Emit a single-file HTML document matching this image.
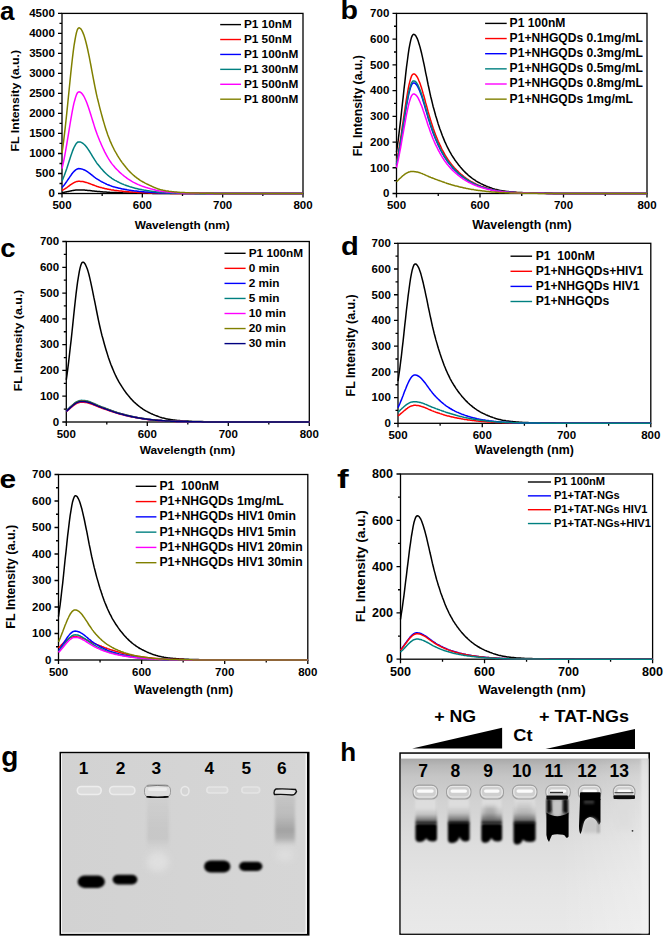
<!DOCTYPE html>
<html><head><meta charset="utf-8"><style>
html,body{margin:0;padding:0;background:#fff;}
svg{display:block;}
text{font-family:"Liberation Sans", sans-serif;font-weight:bold;fill:#000;}
</style></head><body>
<svg width="664" height="936" viewBox="0 0 664 936">
<rect width="664" height="936" fill="#fff"/>
<rect x="62" y="13.4" width="241" height="180.1" fill="none" stroke="#000" stroke-width="1.3"/>
<path d="M58 193.5H62M59.5 183.49H62M58 173.49H62M59.5 163.48H62M58 153.48H62M59.5 143.47H62M58 133.47H62M59.5 123.46H62M58 113.46H62M59.5 103.45H62M58 93.44H62M59.5 83.44H62M58 73.43H62M59.5 63.43H62M58 53.42H62M59.5 43.42H62M58 33.41H62M59.5 23.41H62M58 13.4H62M62 193.5V197.5M102.17 193.5V196M142.33 193.5V197.5M182.5 193.5V196M222.67 193.5V197.5M262.83 193.5V196M303 193.5V197.5" stroke="#000" stroke-width="1.3" fill="none"/>
<text x="54.8" y="197.3" text-anchor="end" font-size="11.5">0</text>
<text x="54.8" y="177.29" text-anchor="end" font-size="11.5">500</text>
<text x="54.8" y="157.28" text-anchor="end" font-size="11.5">1000</text>
<text x="54.8" y="137.27" text-anchor="end" font-size="11.5">1500</text>
<text x="54.8" y="117.26" text-anchor="end" font-size="11.5">2000</text>
<text x="54.8" y="97.24" text-anchor="end" font-size="11.5">2500</text>
<text x="54.8" y="77.23" text-anchor="end" font-size="11.5">3000</text>
<text x="54.8" y="57.22" text-anchor="end" font-size="11.5">3500</text>
<text x="54.8" y="37.21" text-anchor="end" font-size="11.5">4000</text>
<text x="54.8" y="17.2" text-anchor="end" font-size="11.5">4500</text>
<text x="62" y="209.3" text-anchor="middle" font-size="11.5">500</text>
<text x="142.33" y="209.3" text-anchor="middle" font-size="11.5">600</text>
<text x="222.67" y="209.3" text-anchor="middle" font-size="11.5">700</text>
<text x="303" y="209.3" text-anchor="middle" font-size="11.5">800</text>
<text x="182.2" y="228.5" text-anchor="middle" font-size="11.8" textLength="95" lengthAdjust="spacingAndGlyphs">Wavelength (nm)</text>
<text transform="translate(19.3,100.7) rotate(-90)" text-anchor="middle" font-size="11.8" textLength="101.5" lengthAdjust="spacingAndGlyphs">FL Intensity (a.u.)</text>
<text transform="translate(0,20.3) scale(1.0,1)" font-size="26">a</text>
<polyline points="62.0,192.6 62.8,192.5 63.6,192.4 64.4,192.2 65.2,192.1 66.0,191.9 66.8,191.7 67.6,191.6 68.4,191.4 69.2,191.2 70.0,191.1 70.8,190.9 71.6,190.7 72.4,190.6 73.2,190.4 74.0,190.3 74.9,190.2 75.7,190.1 76.5,190.0 77.3,189.9 78.1,189.9 78.9,189.9 79.7,189.9 80.5,189.9 81.3,189.9 82.1,190.0 82.9,190.0 83.7,190.0 84.5,190.1 85.3,190.2 86.1,190.2 86.9,190.3 87.7,190.4 88.5,190.5 89.3,190.5 90.1,190.6 90.9,190.7 91.7,190.8 92.5,190.9 93.3,191.0 94.1,191.1 94.9,191.2 95.7,191.3 96.5,191.3 97.3,191.4 98.2,191.5 99.0,191.6 99.8,191.6 100.6,191.7 101.4,191.8 102.2,191.8 103.0,191.9 103.8,192.0 104.6,192.0 105.4,192.1 106.2,192.1 107.0,192.2 107.8,192.2 108.6,192.3 109.4,192.3 110.2,192.4 111.0,192.4 111.8,192.4 112.6,192.5 113.4,192.5 114.2,192.5 115.0,192.6 115.8,192.6 116.6,192.6 117.4,192.7 118.2,192.7 119.0,192.7 119.8,192.8 120.6,192.8 121.4,192.8 122.2,192.8 123.1,192.9 123.9,192.9 124.7,192.9 125.5,192.9 126.3,192.9 127.1,193.0 127.9,193.0 128.7,193.0 129.5,193.0 130.3,193.0 131.1,193.1 131.9,193.1 132.7,193.1 133.5,193.1 134.3,193.1 135.1,193.1 135.9,193.1 136.7,193.2 137.5,193.2 138.3,193.2 139.1,193.2 139.9,193.2 140.7,193.2 141.5,193.2 142.3,193.2 143.1,193.3 143.9,193.3 144.7,193.3 145.5,193.3 146.3,193.3 147.2,193.3 148.0,193.3 148.8,193.3 149.6,193.3 150.4,193.3 151.2,193.3 152.0,193.3 152.8,193.4 153.6,193.4 154.4,193.4 155.2,193.4 156.0,193.4 156.8,193.4 157.6,193.4 158.4,193.4 159.2,193.4 160.0,193.4 160.8,193.4 161.6,193.4 162.4,193.4 163.2,193.4 164.0,193.4 164.8,193.4 165.6,193.4 166.4,193.4 167.2,193.4 168.0,193.4 168.8,193.5 169.6,193.5 170.4,193.5 171.3,193.5 172.1,193.5 172.9,193.5 173.7,193.5 174.5,193.5 175.3,193.5 176.1,193.5 176.9,193.5 177.7,193.5 178.5,193.5 179.3,193.5 180.1,193.5 180.9,193.5 181.7,193.5 182.5,193.5 184.1,193.5 185.7,193.5 187.3,193.5 188.9,193.5 190.5,193.5 192.1,193.5 193.7,193.5 195.4,193.5 197.0,193.5 198.6,193.5 200.2,193.5 201.8,193.5 203.4,193.5 205.0,193.5 206.6,193.5 208.2,193.5 209.8,193.5 211.4,193.5 213.0,193.5 214.6,193.5 216.2,193.5 217.8,193.5 219.5,193.5 221.1,193.5 222.7,193.5 224.3,193.5 225.9,193.5 227.5,193.5 229.1,193.5 230.7,193.5 232.3,193.5 233.9,193.5 235.5,193.5 237.1,193.5 238.7,193.5 240.3,193.5 241.9,193.5 243.6,193.5 245.2,193.5 246.8,193.5 248.4,193.5 250.0,193.5 251.6,193.5 253.2,193.5 254.8,193.5 256.4,193.5 258.0,193.5 259.6,193.5 261.2,193.5 262.8,193.5 264.4,193.5 266.0,193.5 267.7,193.5 269.3,193.5 270.9,193.5 272.5,193.5 274.1,193.5 275.7,193.5 277.3,193.5 278.9,193.5 280.5,193.5 282.1,193.5 283.7,193.5 285.3,193.5 286.9,193.5 288.5,193.5 290.1,193.5 291.8,193.5 293.4,193.5 295.0,193.5 296.6,193.5 298.2,193.5 299.8,193.5 301.4,193.5 303.0,193.5" fill="none" stroke="#000000" stroke-width="1.5" stroke-linejoin="round"/>
<polyline points="62.0,190.5 62.8,190.1 63.6,189.7 64.4,189.2 65.2,188.7 66.0,188.1 66.8,187.6 67.6,187.0 68.4,186.4 69.2,185.8 70.0,185.2 70.8,184.6 71.6,184.1 72.4,183.6 73.2,183.1 74.0,182.6 74.9,182.2 75.7,181.9 76.5,181.6 77.3,181.4 78.1,181.3 78.9,181.3 79.7,181.3 80.5,181.4 81.3,181.4 82.1,181.5 82.9,181.6 83.7,181.8 84.5,182.0 85.3,182.2 86.1,182.4 86.9,182.6 87.7,182.9 88.5,183.2 89.3,183.5 90.1,183.8 90.9,184.1 91.7,184.4 92.5,184.7 93.3,185.0 94.1,185.3 94.9,185.6 95.7,185.9 96.5,186.2 97.3,186.5 98.2,186.7 99.0,187.0 99.8,187.2 100.6,187.4 101.4,187.6 102.2,187.9 103.0,188.1 103.8,188.3 104.6,188.5 105.4,188.7 106.2,188.8 107.0,189.0 107.8,189.2 108.6,189.3 109.4,189.5 110.2,189.6 111.0,189.8 111.8,189.9 112.6,190.0 113.4,190.1 114.2,190.3 115.0,190.4 115.8,190.5 116.6,190.6 117.4,190.7 118.2,190.8 119.0,190.9 119.8,191.0 120.6,191.1 121.4,191.1 122.2,191.2 123.1,191.3 123.9,191.4 124.7,191.5 125.5,191.5 126.3,191.6 127.1,191.7 127.9,191.7 128.7,191.8 129.5,191.9 130.3,191.9 131.1,192.0 131.9,192.0 132.7,192.1 133.5,192.2 134.3,192.2 135.1,192.3 135.9,192.3 136.7,192.3 137.5,192.4 138.3,192.4 139.1,192.5 139.9,192.5 140.7,192.5 141.5,192.6 142.3,192.6 143.1,192.7 143.9,192.7 144.7,192.7 145.5,192.7 146.3,192.8 147.2,192.8 148.0,192.8 148.8,192.9 149.6,192.9 150.4,192.9 151.2,192.9 152.0,193.0 152.8,193.0 153.6,193.0 154.4,193.1 155.2,193.1 156.0,193.1 156.8,193.1 157.6,193.1 158.4,193.2 159.2,193.2 160.0,193.2 160.8,193.2 161.6,193.2 162.4,193.2 163.2,193.3 164.0,193.3 164.8,193.3 165.6,193.3 166.4,193.3 167.2,193.3 168.0,193.3 168.8,193.3 169.6,193.3 170.4,193.4 171.3,193.4 172.1,193.4 172.9,193.4 173.7,193.4 174.5,193.4 175.3,193.4 176.1,193.4 176.9,193.4 177.7,193.4 178.5,193.4 179.3,193.4 180.1,193.4 180.9,193.4 181.7,193.4 182.5,193.4 184.1,193.4 185.7,193.4 187.3,193.4 188.9,193.5 190.5,193.5 192.1,193.5 193.7,193.5 195.4,193.5 197.0,193.5 198.6,193.5 200.2,193.5 201.8,193.5 203.4,193.5 205.0,193.5 206.6,193.5 208.2,193.5 209.8,193.5 211.4,193.5 213.0,193.5 214.6,193.5 216.2,193.5 217.8,193.5 219.5,193.5 221.1,193.5 222.7,193.5 224.3,193.5 225.9,193.5 227.5,193.5 229.1,193.5 230.7,193.5 232.3,193.5 233.9,193.5 235.5,193.5 237.1,193.5 238.7,193.5 240.3,193.5 241.9,193.5 243.6,193.5 245.2,193.5 246.8,193.5 248.4,193.5 250.0,193.5 251.6,193.5 253.2,193.5 254.8,193.5 256.4,193.5 258.0,193.5 259.6,193.5 261.2,193.5 262.8,193.5 264.4,193.5 266.0,193.5 267.7,193.5 269.3,193.5 270.9,193.5 272.5,193.5 274.1,193.5 275.7,193.5 277.3,193.5 278.9,193.5 280.5,193.5 282.1,193.5 283.7,193.5 285.3,193.5 286.9,193.5 288.5,193.5 290.1,193.5 291.8,193.5 293.4,193.5 295.0,193.5 296.6,193.5 298.2,193.5 299.8,193.5 301.4,193.5 303.0,193.5" fill="none" stroke="#ff0000" stroke-width="1.5" stroke-linejoin="round"/>
<polyline points="62.0,187.4 62.8,186.6 63.6,185.7 64.4,184.7 65.2,183.6 66.0,182.5 66.8,181.4 67.6,180.2 68.4,179.0 69.2,177.8 70.0,176.6 70.8,175.5 71.6,174.3 72.4,173.2 73.2,172.3 74.0,171.4 74.9,170.6 75.7,169.9 76.5,169.4 77.3,169.0 78.1,168.7 78.9,168.6 79.7,168.7 80.5,168.8 81.3,168.9 82.1,169.1 82.9,169.4 83.7,169.7 84.5,170.0 85.3,170.4 86.1,170.9 86.9,171.4 87.7,171.9 88.5,172.5 89.3,173.1 90.1,173.7 90.9,174.3 91.7,174.9 92.5,175.6 93.3,176.2 94.1,176.9 94.9,177.5 95.7,178.1 96.5,178.6 97.3,179.2 98.2,179.7 99.0,180.2 99.8,180.7 100.6,181.1 101.4,181.6 102.2,182.0 103.0,182.4 103.8,182.8 104.6,183.2 105.4,183.6 106.2,184.0 107.0,184.4 107.8,184.7 108.6,185.0 109.4,185.3 110.2,185.6 111.0,185.9 111.8,186.2 112.6,186.4 113.4,186.7 114.2,186.9 115.0,187.1 115.8,187.4 116.6,187.6 117.4,187.8 118.2,188.0 119.0,188.2 119.8,188.3 120.6,188.5 121.4,188.7 122.2,188.9 123.1,189.0 123.9,189.2 124.7,189.3 125.5,189.5 126.3,189.6 127.1,189.8 127.9,189.9 128.7,190.1 129.5,190.2 130.3,190.3 131.1,190.4 131.9,190.5 132.7,190.7 133.5,190.8 134.3,190.9 135.1,191.0 135.9,191.1 136.7,191.1 137.5,191.2 138.3,191.3 139.1,191.4 139.9,191.5 140.7,191.6 141.5,191.6 142.3,191.7 143.1,191.8 143.9,191.8 144.7,191.9 145.5,192.0 146.3,192.0 147.2,192.1 148.0,192.1 148.8,192.2 149.6,192.3 150.4,192.3 151.2,192.4 152.0,192.4 152.8,192.5 153.6,192.5 154.4,192.6 155.2,192.6 156.0,192.7 156.8,192.7 157.6,192.8 158.4,192.8 159.2,192.9 160.0,192.9 160.8,192.9 161.6,193.0 162.4,193.0 163.2,193.0 164.0,193.0 164.8,193.1 165.6,193.1 166.4,193.1 167.2,193.1 168.0,193.1 168.8,193.2 169.6,193.2 170.4,193.2 171.3,193.2 172.1,193.2 172.9,193.2 173.7,193.3 174.5,193.3 175.3,193.3 176.1,193.3 176.9,193.3 177.7,193.3 178.5,193.3 179.3,193.3 180.1,193.3 180.9,193.3 181.7,193.3 182.5,193.4 184.1,193.4 185.7,193.4 187.3,193.4 188.9,193.4 190.5,193.4 192.1,193.4 193.7,193.4 195.4,193.4 197.0,193.4 198.6,193.4 200.2,193.4 201.8,193.5 203.4,193.5 205.0,193.5 206.6,193.5 208.2,193.5 209.8,193.5 211.4,193.5 213.0,193.5 214.6,193.5 216.2,193.5 217.8,193.5 219.5,193.5 221.1,193.5 222.7,193.5 224.3,193.5 225.9,193.5 227.5,193.5 229.1,193.5 230.7,193.5 232.3,193.5 233.9,193.5 235.5,193.5 237.1,193.5 238.7,193.5 240.3,193.5 241.9,193.5 243.6,193.5 245.2,193.5 246.8,193.5 248.4,193.5 250.0,193.5 251.6,193.5 253.2,193.5 254.8,193.5 256.4,193.5 258.0,193.5 259.6,193.5 261.2,193.5 262.8,193.5 264.4,193.5 266.0,193.5 267.7,193.5 269.3,193.5 270.9,193.5 272.5,193.5 274.1,193.5 275.7,193.5 277.3,193.5 278.9,193.5 280.5,193.5 282.1,193.5 283.7,193.5 285.3,193.5 286.9,193.5 288.5,193.5 290.1,193.5 291.8,193.5 293.4,193.5 295.0,193.5 296.6,193.5 298.2,193.5 299.8,193.5 301.4,193.5 303.0,193.5" fill="none" stroke="#0000ff" stroke-width="1.5" stroke-linejoin="round"/>
<polyline points="62.0,180.9 62.8,179.1 63.6,177.2 64.4,175.2 65.2,173.0 66.0,170.7 66.8,168.4 67.6,165.9 68.4,163.4 69.2,160.9 70.0,158.4 70.8,156.0 71.6,153.7 72.4,151.4 73.2,149.4 74.0,147.5 74.9,145.8 75.7,144.4 76.5,143.3 77.3,142.5 78.1,142.0 78.9,141.9 79.7,141.9 80.5,142.1 81.3,142.4 82.1,142.8 82.9,143.4 83.7,144.0 84.5,144.7 85.3,145.6 86.1,146.5 86.9,147.5 87.7,148.6 88.5,149.8 89.3,151.0 90.1,152.3 90.9,153.6 91.7,155.0 92.5,156.3 93.3,157.6 94.1,158.9 94.9,160.2 95.7,161.4 96.5,162.6 97.3,163.7 98.2,164.8 99.0,165.8 99.8,166.8 100.6,167.8 101.4,168.7 102.2,169.6 103.0,170.5 103.8,171.4 104.6,172.2 105.4,173.0 106.2,173.8 107.0,174.5 107.8,175.2 108.6,175.9 109.4,176.5 110.2,177.2 111.0,177.7 111.8,178.3 112.6,178.8 113.4,179.3 114.2,179.8 115.0,180.3 115.8,180.7 116.6,181.2 117.4,181.6 118.2,182.0 119.0,182.4 119.8,182.8 120.6,183.2 121.4,183.5 122.2,183.9 123.1,184.2 123.9,184.6 124.7,184.9 125.5,185.2 126.3,185.5 127.1,185.8 127.9,186.1 128.7,186.3 129.5,186.6 130.3,186.9 131.1,187.1 131.9,187.3 132.7,187.6 133.5,187.8 134.3,188.0 135.1,188.2 135.9,188.4 136.7,188.6 137.5,188.8 138.3,189.0 139.1,189.2 139.9,189.3 140.7,189.5 141.5,189.6 142.3,189.8 143.1,189.9 143.9,190.1 144.7,190.2 145.5,190.3 146.3,190.4 147.2,190.6 148.0,190.7 148.8,190.8 149.6,190.9 150.4,191.1 151.2,191.2 152.0,191.3 152.8,191.4 153.6,191.5 154.4,191.6 155.2,191.7 156.0,191.8 156.8,191.9 157.6,192.0 158.4,192.1 159.2,192.2 160.0,192.2 160.8,192.3 161.6,192.4 162.4,192.4 163.2,192.5 164.0,192.5 164.8,192.6 165.6,192.6 166.4,192.7 167.2,192.7 168.0,192.8 168.8,192.8 169.6,192.8 170.4,192.9 171.3,192.9 172.1,192.9 172.9,193.0 173.7,193.0 174.5,193.0 175.3,193.0 176.1,193.1 176.9,193.1 177.7,193.1 178.5,193.1 179.3,193.1 180.1,193.1 180.9,193.2 181.7,193.2 182.5,193.2 184.1,193.2 185.7,193.2 187.3,193.3 188.9,193.3 190.5,193.3 192.1,193.3 193.7,193.3 195.4,193.4 197.0,193.4 198.6,193.4 200.2,193.4 201.8,193.4 203.4,193.4 205.0,193.4 206.6,193.4 208.2,193.4 209.8,193.4 211.4,193.4 213.0,193.5 214.6,193.5 216.2,193.5 217.8,193.5 219.5,193.5 221.1,193.5 222.7,193.5 224.3,193.5 225.9,193.5 227.5,193.5 229.1,193.5 230.7,193.5 232.3,193.5 233.9,193.5 235.5,193.5 237.1,193.5 238.7,193.5 240.3,193.5 241.9,193.5 243.6,193.5 245.2,193.5 246.8,193.5 248.4,193.5 250.0,193.5 251.6,193.5 253.2,193.5 254.8,193.5 256.4,193.5 258.0,193.5 259.6,193.5 261.2,193.5 262.8,193.5 264.4,193.5 266.0,193.5 267.7,193.5 269.3,193.5 270.9,193.5 272.5,193.5 274.1,193.5 275.7,193.5 277.3,193.5 278.9,193.5 280.5,193.5 282.1,193.5 283.7,193.5 285.3,193.5 286.9,193.5 288.5,193.5 290.1,193.5 291.8,193.5 293.4,193.5 295.0,193.5 296.6,193.5 298.2,193.5 299.8,193.5 301.4,193.5 303.0,193.5" fill="none" stroke="#008080" stroke-width="1.5" stroke-linejoin="round"/>
<polyline points="62.0,168.7 62.8,165.2 63.6,161.5 64.4,157.5 65.2,153.2 66.0,148.7 66.8,144.0 67.6,139.2 68.4,134.3 69.2,129.4 70.0,124.5 70.8,119.7 71.6,115.1 72.4,110.7 73.2,106.6 74.0,102.9 74.9,99.7 75.7,96.9 76.5,94.7 77.3,93.1 78.1,92.2 78.9,91.8 79.7,92.0 80.5,92.3 81.3,92.9 82.1,93.7 82.9,94.8 83.7,96.0 84.5,97.5 85.3,99.2 86.1,101.0 86.9,103.0 87.7,105.2 88.5,107.5 89.3,109.9 90.1,112.4 90.9,115.0 91.7,117.6 92.5,120.2 93.3,122.8 94.1,125.4 94.9,127.9 95.7,130.3 96.5,132.6 97.3,134.8 98.2,137.0 99.0,139.0 99.8,141.0 100.6,142.8 101.4,144.7 102.2,146.5 103.0,148.2 103.8,149.9 104.6,151.6 105.4,153.1 106.2,154.7 107.0,156.1 107.8,157.5 108.6,158.9 109.4,160.1 110.2,161.3 111.0,162.5 111.8,163.6 112.6,164.6 113.4,165.6 114.2,166.5 115.0,167.5 115.8,168.4 116.6,169.2 117.4,170.0 118.2,170.8 119.0,171.6 119.8,172.4 120.6,173.1 121.4,173.8 122.2,174.5 123.1,175.2 123.9,175.9 124.7,176.5 125.5,177.1 126.3,177.7 127.1,178.3 127.9,178.9 128.7,179.4 129.5,179.9 130.3,180.4 131.1,180.9 131.9,181.4 132.7,181.8 133.5,182.3 134.3,182.7 135.1,183.1 135.9,183.5 136.7,183.9 137.5,184.2 138.3,184.6 139.1,184.9 139.9,185.3 140.7,185.6 141.5,185.9 142.3,186.2 143.1,186.4 143.9,186.7 144.7,187.0 145.5,187.2 146.3,187.5 147.2,187.7 148.0,188.0 148.8,188.2 149.6,188.4 150.4,188.7 151.2,188.9 152.0,189.1 152.8,189.4 153.6,189.6 154.4,189.8 155.2,190.0 156.0,190.2 156.8,190.4 157.6,190.6 158.4,190.7 159.2,190.9 160.0,191.0 160.8,191.2 161.6,191.3 162.4,191.4 163.2,191.5 164.0,191.6 164.8,191.7 165.6,191.8 166.4,191.9 167.2,192.0 168.0,192.1 168.8,192.1 169.6,192.2 170.4,192.3 171.3,192.3 172.1,192.4 172.9,192.4 173.7,192.5 174.5,192.5 175.3,192.6 176.1,192.6 176.9,192.7 177.7,192.7 178.5,192.7 179.3,192.8 180.1,192.8 180.9,192.8 181.7,192.9 182.5,192.9 184.1,193.0 185.7,193.0 187.3,193.1 188.9,193.1 190.5,193.1 192.1,193.2 193.7,193.2 195.4,193.2 197.0,193.2 198.6,193.3 200.2,193.3 201.8,193.3 203.4,193.3 205.0,193.3 206.6,193.4 208.2,193.4 209.8,193.4 211.4,193.4 213.0,193.4 214.6,193.4 216.2,193.4 217.8,193.4 219.5,193.4 221.1,193.4 222.7,193.4 224.3,193.4 225.9,193.5 227.5,193.5 229.1,193.5 230.7,193.5 232.3,193.5 233.9,193.5 235.5,193.5 237.1,193.5 238.7,193.5 240.3,193.5 241.9,193.5 243.6,193.5 245.2,193.5 246.8,193.5 248.4,193.5 250.0,193.5 251.6,193.5 253.2,193.5 254.8,193.5 256.4,193.5 258.0,193.5 259.6,193.5 261.2,193.5 262.8,193.5 264.4,193.5 266.0,193.5 267.7,193.5 269.3,193.5 270.9,193.5 272.5,193.5 274.1,193.5 275.7,193.5 277.3,193.5 278.9,193.5 280.5,193.5 282.1,193.5 283.7,193.5 285.3,193.5 286.9,193.5 288.5,193.5 290.1,193.5 291.8,193.5 293.4,193.5 295.0,193.5 296.6,193.5 298.2,193.5 299.8,193.5 301.4,193.5 303.0,193.5" fill="none" stroke="#ff00ff" stroke-width="1.5" stroke-linejoin="round"/>
<polyline points="62.0,153.1 62.8,147.4 63.6,141.3 64.4,134.7 65.2,127.8 66.0,120.5 66.8,112.8 67.6,105.0 68.4,97.0 69.2,89.0 70.0,81.0 70.8,73.2 71.6,65.6 72.4,58.5 73.2,51.9 74.0,45.8 74.9,40.5 75.7,36.1 76.5,32.5 77.3,29.9 78.1,28.3 78.9,27.8 79.7,28.0 80.5,28.6 81.3,29.5 82.1,30.9 82.9,32.6 83.7,34.6 84.5,37.0 85.3,39.7 86.1,42.7 86.9,46.0 87.7,49.5 88.5,53.3 89.3,57.2 90.1,61.3 90.9,65.5 91.7,69.8 92.5,74.1 93.3,78.3 94.1,82.5 94.9,86.6 95.7,90.5 96.5,94.3 97.3,97.9 98.2,101.3 99.0,104.7 99.8,107.9 100.6,110.9 101.4,113.9 102.2,116.8 103.0,119.7 103.8,122.4 104.6,125.1 105.4,127.7 106.2,130.2 107.0,132.6 107.8,134.9 108.6,137.0 109.4,139.1 110.2,141.1 111.0,142.9 111.8,144.7 112.6,146.4 113.4,148.0 114.2,149.6 115.0,151.1 115.8,152.5 116.6,153.9 117.4,155.3 118.2,156.6 119.0,157.9 119.8,159.1 120.6,160.3 121.4,161.5 122.2,162.6 123.1,163.7 123.9,164.8 124.7,165.8 125.5,166.8 126.3,167.8 127.1,168.7 127.9,169.7 128.7,170.5 129.5,171.4 130.3,172.2 131.1,173.0 131.9,173.8 132.7,174.5 133.5,175.2 134.3,175.9 135.1,176.6 135.9,177.2 136.7,177.8 137.5,178.4 138.3,179.0 139.1,179.5 139.9,180.1 140.7,180.6 141.5,181.1 142.3,181.5 143.1,182.0 143.9,182.4 144.7,182.9 145.5,183.3 146.3,183.7 147.2,184.1 148.0,184.5 148.8,184.9 149.6,185.3 150.4,185.6 151.2,186.0 152.0,186.4 152.8,186.8 153.6,187.1 154.4,187.5 155.2,187.8 156.0,188.1 156.8,188.4 157.6,188.7 158.4,189.0 159.2,189.2 160.0,189.5 160.8,189.7 161.6,189.9 162.4,190.1 163.2,190.3 164.0,190.4 164.8,190.6 165.6,190.8 166.4,190.9 167.2,191.0 168.0,191.1 168.8,191.3 169.6,191.4 170.4,191.5 171.3,191.6 172.1,191.7 172.9,191.8 173.7,191.8 174.5,191.9 175.3,192.0 176.1,192.1 176.9,192.1 177.7,192.2 178.5,192.3 179.3,192.3 180.1,192.4 180.9,192.4 181.7,192.5 182.5,192.5 184.1,192.6 185.7,192.7 187.3,192.8 188.9,192.8 190.5,192.9 192.1,193.0 193.7,193.0 195.4,193.0 197.0,193.1 198.6,193.1 200.2,193.2 201.8,193.2 203.4,193.2 205.0,193.2 206.6,193.3 208.2,193.3 209.8,193.3 211.4,193.3 213.0,193.3 214.6,193.4 216.2,193.4 217.8,193.4 219.5,193.4 221.1,193.4 222.7,193.4 224.3,193.4 225.9,193.4 227.5,193.4 229.1,193.4 230.7,193.4 232.3,193.4 233.9,193.5 235.5,193.5 237.1,193.5 238.7,193.5 240.3,193.5 241.9,193.5 243.6,193.5 245.2,193.5 246.8,193.5 248.4,193.5 250.0,193.5 251.6,193.5 253.2,193.5 254.8,193.5 256.4,193.5 258.0,193.5 259.6,193.5 261.2,193.5 262.8,193.5 264.4,193.5 266.0,193.5 267.7,193.5 269.3,193.5 270.9,193.5 272.5,193.5 274.1,193.5 275.7,193.5 277.3,193.5 278.9,193.5 280.5,193.5 282.1,193.5 283.7,193.5 285.3,193.5 286.9,193.5 288.5,193.5 290.1,193.5 291.8,193.5 293.4,193.5 295.0,193.5 296.6,193.5 298.2,193.5 299.8,193.5 301.4,193.5 303.0,193.5" fill="none" stroke="#808000" stroke-width="1.5" stroke-linejoin="round"/>
<path d="M220.2 24.6H241" stroke="#000000" stroke-width="1.4"/>
<text x="243.9" y="28" font-size="11.8" xml:space="preserve">P1 10nM</text>
<path d="M220.2 39.52H241" stroke="#ff0000" stroke-width="1.4"/>
<text x="243.9" y="42.92" font-size="11.8" xml:space="preserve">P1 50nM</text>
<path d="M220.2 54.44H241" stroke="#0000ff" stroke-width="1.4"/>
<text x="243.9" y="57.84" font-size="11.8" xml:space="preserve">P1 100nM</text>
<path d="M220.2 69.36H241" stroke="#008080" stroke-width="1.4"/>
<text x="243.9" y="72.76" font-size="11.8" xml:space="preserve">P1 300nM</text>
<path d="M220.2 84.28H241" stroke="#ff00ff" stroke-width="1.4"/>
<text x="243.9" y="87.68" font-size="11.8" xml:space="preserve">P1 500nM</text>
<path d="M220.2 99.2H241" stroke="#808000" stroke-width="1.4"/>
<text x="243.9" y="102.6" font-size="11.8" xml:space="preserve">P1 800nM</text>
<rect x="396.5" y="13.4" width="250.5" height="180.1" fill="none" stroke="#000" stroke-width="1.3"/>
<path d="M392.5 193.5H396.5M394 180.64H396.5M392.5 167.77H396.5M394 154.91H396.5M392.5 142.04H396.5M394 129.18H396.5M392.5 116.31H396.5M394 103.45H396.5M392.5 90.59H396.5M394 77.72H396.5M392.5 64.86H396.5M394 51.99H396.5M392.5 39.13H396.5M394 26.26H396.5M392.5 13.4H396.5M396.5 193.5V197.5M438.25 193.5V196M480 193.5V197.5M521.75 193.5V196M563.5 193.5V197.5M605.25 193.5V196M647 193.5V197.5" stroke="#000" stroke-width="1.3" fill="none"/>
<text x="389.3" y="197.3" text-anchor="end" font-size="11.5">0</text>
<text x="389.3" y="171.57" text-anchor="end" font-size="11.5">100</text>
<text x="389.3" y="145.84" text-anchor="end" font-size="11.5">200</text>
<text x="389.3" y="120.11" text-anchor="end" font-size="11.5">300</text>
<text x="389.3" y="94.39" text-anchor="end" font-size="11.5">400</text>
<text x="389.3" y="68.66" text-anchor="end" font-size="11.5">500</text>
<text x="389.3" y="42.93" text-anchor="end" font-size="11.5">600</text>
<text x="389.3" y="17.2" text-anchor="end" font-size="11.5">700</text>
<text x="396.5" y="209.3" text-anchor="middle" font-size="11.5">500</text>
<text x="480" y="209.3" text-anchor="middle" font-size="11.5">600</text>
<text x="563.5" y="209.3" text-anchor="middle" font-size="11.5">700</text>
<text x="647" y="209.3" text-anchor="middle" font-size="11.5">800</text>
<text x="521.9" y="228.5" text-anchor="middle" font-size="12.2" textLength="99.5" lengthAdjust="spacingAndGlyphs">Wavelength (nm)</text>
<text transform="translate(361.5,105.7) rotate(-90)" text-anchor="middle" font-size="12.2" textLength="101" lengthAdjust="spacingAndGlyphs">FL Intensity (a.u.)</text>
<text transform="translate(340.5,19) scale(1.1,1)" font-size="26">b</text>
<polyline points="396.5,152.0 397.3,146.3 398.2,140.2 399.0,133.7 399.8,126.9 400.7,119.7 401.5,112.2 402.3,104.6 403.2,96.9 404.0,89.2 404.9,81.6 405.7,74.2 406.5,67.1 407.4,60.5 408.2,54.4 409.0,48.9 409.9,44.2 410.7,40.4 411.5,37.4 412.4,35.4 413.2,34.4 414.0,34.3 414.9,34.8 415.7,35.7 416.5,37.1 417.4,38.9 418.2,41.1 419.0,43.7 419.9,46.6 420.7,49.8 421.6,53.3 422.4,56.9 423.2,60.7 424.1,64.7 424.9,68.7 425.7,72.8 426.6,76.9 427.4,81.0 428.2,85.0 429.1,89.0 429.9,92.8 430.7,96.5 431.6,100.0 432.4,103.4 433.2,106.7 434.1,109.8 434.9,112.8 435.7,115.7 436.6,118.5 437.4,121.2 438.2,123.9 439.1,126.4 439.9,128.9 440.8,131.2 441.6,133.5 442.4,135.8 443.3,137.9 444.1,139.9 444.9,141.9 445.8,143.7 446.6,145.5 447.4,147.2 448.3,148.8 449.1,150.4 449.9,151.9 450.8,153.4 451.6,154.8 452.4,156.1 453.3,157.5 454.1,158.7 454.9,160.0 455.8,161.1 456.6,162.3 457.5,163.4 458.3,164.5 459.1,165.6 460.0,166.6 460.8,167.6 461.6,168.5 462.5,169.5 463.3,170.4 464.1,171.2 465.0,172.1 465.8,172.9 466.6,173.7 467.5,174.4 468.3,175.2 469.1,175.9 470.0,176.6 470.8,177.2 471.6,177.9 472.5,178.5 473.3,179.1 474.2,179.7 475.0,180.2 475.8,180.8 476.7,181.3 477.5,181.8 478.3,182.3 479.2,182.7 480.0,183.2 480.8,183.6 481.7,184.0 482.5,184.4 483.3,184.8 484.2,185.2 485.0,185.5 485.8,185.9 486.7,186.2 487.5,186.6 488.4,186.9 489.2,187.2 490.0,187.5 490.9,187.8 491.7,188.1 492.5,188.4 493.4,188.7 494.2,188.9 495.0,189.2 495.9,189.4 496.7,189.6 497.5,189.8 498.4,190.0 499.2,190.2 500.0,190.4 500.9,190.5 501.7,190.7 502.5,190.8 503.4,191.0 504.2,191.1 505.1,191.2 505.9,191.3 506.7,191.4 507.6,191.5 508.4,191.6 509.2,191.7 510.1,191.8 510.9,191.9 511.7,192.0 512.6,192.0 513.4,192.1 514.2,192.2 515.1,192.2 515.9,192.3 516.7,192.4 517.6,192.4 518.4,192.5 519.2,192.5 520.1,192.6 520.9,192.6 521.8,192.6 523.4,192.7 525.1,192.8 526.8,192.9 528.4,192.9 530.1,193.0 531.8,193.0 533.4,193.1 535.1,193.1 536.8,193.1 538.5,193.2 540.1,193.2 541.8,193.2 543.5,193.3 545.1,193.3 546.8,193.3 548.5,193.3 550.1,193.3 551.8,193.3 553.5,193.4 555.1,193.4 556.8,193.4 558.5,193.4 560.2,193.4 561.8,193.4 563.5,193.4 565.2,193.4 566.8,193.4 568.5,193.4 570.2,193.4 571.9,193.5 573.5,193.5 575.2,193.5 576.9,193.5 578.5,193.5 580.2,193.5 581.9,193.5 583.5,193.5 585.2,193.5 586.9,193.5 588.5,193.5 590.2,193.5 591.9,193.5 593.6,193.5 595.2,193.5 596.9,193.5 598.6,193.5 600.2,193.5 601.9,193.5 603.6,193.5 605.2,193.5 606.9,193.5 608.6,193.5 610.3,193.5 611.9,193.5 613.6,193.5 615.3,193.5 616.9,193.5 618.6,193.5 620.3,193.5 622.0,193.5 623.6,193.5 625.3,193.5 627.0,193.5 628.6,193.5 630.3,193.5 632.0,193.5 633.6,193.5 635.3,193.5 637.0,193.5 638.6,193.5 640.3,193.5 642.0,193.5 643.7,193.5 645.3,193.5 647.0,193.5" fill="none" stroke="#000000" stroke-width="1.5" stroke-linejoin="round"/>
<polyline points="396.5,162.3 397.3,158.1 398.2,153.5 399.0,148.6 399.8,143.4 400.7,138.0 401.5,132.5 402.3,126.7 403.2,120.9 404.0,115.1 404.9,109.4 405.7,103.9 406.5,98.6 407.4,93.6 408.2,89.0 409.0,84.9 409.9,81.4 410.7,78.5 411.5,76.2 412.4,74.7 413.2,74.0 414.0,73.9 414.9,74.3 415.7,75.0 416.5,76.0 417.4,77.4 418.2,79.0 419.0,81.0 419.9,83.1 420.7,85.5 421.6,88.1 422.4,90.9 423.2,93.8 424.1,96.7 424.9,99.8 425.7,102.9 426.6,105.9 427.4,109.0 428.2,112.0 429.1,115.0 429.9,117.8 430.7,120.6 431.6,123.3 432.4,125.8 433.2,128.3 434.1,130.7 434.9,132.9 435.7,135.1 436.6,137.2 437.4,139.2 438.2,141.2 439.1,143.1 439.9,144.9 440.8,146.7 441.6,148.5 442.4,150.1 443.3,151.7 444.1,153.2 444.9,154.7 445.8,156.1 446.6,157.4 447.4,158.7 448.3,160.0 449.1,161.1 449.9,162.3 450.8,163.4 451.6,164.4 452.4,165.4 453.3,166.4 454.1,167.4 454.9,168.3 455.8,169.2 456.6,170.1 457.5,170.9 458.3,171.7 459.1,172.5 460.0,173.3 460.8,174.0 461.6,174.7 462.5,175.4 463.3,176.1 464.1,176.8 465.0,177.4 465.8,178.0 466.6,178.6 467.5,179.2 468.3,179.7 469.1,180.3 470.0,180.8 470.8,181.3 471.6,181.8 472.5,182.2 473.3,182.7 474.2,183.1 475.0,183.5 475.8,183.9 476.7,184.3 477.5,184.7 478.3,185.1 479.2,185.4 480.0,185.7 480.8,186.1 481.7,186.4 482.5,186.7 483.3,186.9 484.2,187.2 485.0,187.5 485.8,187.8 486.7,188.0 487.5,188.3 488.4,188.5 489.2,188.8 490.0,189.0 490.9,189.2 491.7,189.5 492.5,189.7 493.4,189.9 494.2,190.1 495.0,190.2 495.9,190.4 496.7,190.6 497.5,190.7 498.4,190.9 499.2,191.0 500.0,191.2 500.9,191.3 501.7,191.4 502.5,191.5 503.4,191.6 504.2,191.7 505.1,191.8 505.9,191.9 506.7,191.9 507.6,192.0 508.4,192.1 509.2,192.2 510.1,192.2 510.9,192.3 511.7,192.4 512.6,192.4 513.4,192.5 514.2,192.5 515.1,192.6 515.9,192.6 516.7,192.6 517.6,192.7 518.4,192.7 519.2,192.8 520.1,192.8 520.9,192.8 521.8,192.9 523.4,192.9 525.1,193.0 526.8,193.0 528.4,193.1 530.1,193.1 531.8,193.1 533.4,193.2 535.1,193.2 536.8,193.2 538.5,193.3 540.1,193.3 541.8,193.3 543.5,193.3 545.1,193.3 546.8,193.3 548.5,193.4 550.1,193.4 551.8,193.4 553.5,193.4 555.1,193.4 556.8,193.4 558.5,193.4 560.2,193.4 561.8,193.4 563.5,193.4 565.2,193.4 566.8,193.5 568.5,193.5 570.2,193.5 571.9,193.5 573.5,193.5 575.2,193.5 576.9,193.5 578.5,193.5 580.2,193.5 581.9,193.5 583.5,193.5 585.2,193.5 586.9,193.5 588.5,193.5 590.2,193.5 591.9,193.5 593.6,193.5 595.2,193.5 596.9,193.5 598.6,193.5 600.2,193.5 601.9,193.5 603.6,193.5 605.2,193.5 606.9,193.5 608.6,193.5 610.3,193.5 611.9,193.5 613.6,193.5 615.3,193.5 616.9,193.5 618.6,193.5 620.3,193.5 622.0,193.5 623.6,193.5 625.3,193.5 627.0,193.5 628.6,193.5 630.3,193.5 632.0,193.5 633.6,193.5 635.3,193.5 637.0,193.5 638.6,193.5 640.3,193.5 642.0,193.5 643.7,193.5 645.3,193.5 647.0,193.5" fill="none" stroke="#ff0000" stroke-width="1.5" stroke-linejoin="round"/>
<polyline points="396.5,164.7 397.3,160.7 398.2,156.5 399.0,152.0 399.8,147.2 400.7,142.2 401.5,137.0 402.3,131.8 403.2,126.4 404.0,121.0 404.9,115.8 405.7,110.6 406.5,105.7 407.4,101.1 408.2,96.9 409.0,93.1 409.9,89.8 410.7,87.1 411.5,85.1 412.4,83.7 413.2,83.0 414.0,82.9 414.9,83.2 415.7,83.9 416.5,84.8 417.4,86.1 418.2,87.6 419.0,89.4 419.9,91.4 420.7,93.7 421.6,96.1 422.4,98.6 423.2,101.3 424.1,104.0 424.9,106.8 425.7,109.7 426.6,112.5 427.4,115.4 428.2,118.2 429.1,120.9 429.9,123.5 430.7,126.1 431.6,128.6 432.4,130.9 433.2,133.2 434.1,135.4 434.9,137.5 435.7,139.5 436.6,141.4 437.4,143.3 438.2,145.1 439.1,146.9 439.9,148.6 440.8,150.3 441.6,151.9 442.4,153.4 443.3,154.9 444.1,156.3 444.9,157.6 445.8,158.9 446.6,160.2 447.4,161.3 448.3,162.5 449.1,163.6 449.9,164.6 450.8,165.6 451.6,166.6 452.4,167.6 453.3,168.5 454.1,169.3 454.9,170.2 455.8,171.0 456.6,171.8 457.5,172.6 458.3,173.4 459.1,174.1 460.0,174.8 460.8,175.5 461.6,176.2 462.5,176.8 463.3,177.4 464.1,178.0 465.0,178.6 465.8,179.2 466.6,179.7 467.5,180.3 468.3,180.8 469.1,181.3 470.0,181.7 470.8,182.2 471.6,182.7 472.5,183.1 473.3,183.5 474.2,183.9 475.0,184.3 475.8,184.7 476.7,185.0 477.5,185.4 478.3,185.7 479.2,186.0 480.0,186.3 480.8,186.6 481.7,186.9 482.5,187.2 483.3,187.4 484.2,187.7 485.0,188.0 485.8,188.2 486.7,188.4 487.5,188.7 488.4,188.9 489.2,189.1 490.0,189.3 490.9,189.6 491.7,189.8 492.5,190.0 493.4,190.1 494.2,190.3 495.0,190.5 495.9,190.7 496.7,190.8 497.5,191.0 498.4,191.1 499.2,191.2 500.0,191.3 500.9,191.4 501.7,191.5 502.5,191.6 503.4,191.7 504.2,191.8 505.1,191.9 505.9,192.0 506.7,192.1 507.6,192.1 508.4,192.2 509.2,192.3 510.1,192.3 510.9,192.4 511.7,192.4 512.6,192.5 513.4,192.5 514.2,192.6 515.1,192.6 515.9,192.7 516.7,192.7 517.6,192.7 518.4,192.8 519.2,192.8 520.1,192.8 520.9,192.9 521.8,192.9 523.4,193.0 525.1,193.0 526.8,193.1 528.4,193.1 530.1,193.1 531.8,193.2 533.4,193.2 535.1,193.2 536.8,193.3 538.5,193.3 540.1,193.3 541.8,193.3 543.5,193.3 545.1,193.3 546.8,193.4 548.5,193.4 550.1,193.4 551.8,193.4 553.5,193.4 555.1,193.4 556.8,193.4 558.5,193.4 560.2,193.4 561.8,193.4 563.5,193.4 565.2,193.4 566.8,193.5 568.5,193.5 570.2,193.5 571.9,193.5 573.5,193.5 575.2,193.5 576.9,193.5 578.5,193.5 580.2,193.5 581.9,193.5 583.5,193.5 585.2,193.5 586.9,193.5 588.5,193.5 590.2,193.5 591.9,193.5 593.6,193.5 595.2,193.5 596.9,193.5 598.6,193.5 600.2,193.5 601.9,193.5 603.6,193.5 605.2,193.5 606.9,193.5 608.6,193.5 610.3,193.5 611.9,193.5 613.6,193.5 615.3,193.5 616.9,193.5 618.6,193.5 620.3,193.5 622.0,193.5 623.6,193.5 625.3,193.5 627.0,193.5 628.6,193.5 630.3,193.5 632.0,193.5 633.6,193.5 635.3,193.5 637.0,193.5 638.6,193.5 640.3,193.5 642.0,193.5 643.7,193.5 645.3,193.5 647.0,193.5" fill="none" stroke="#0000ff" stroke-width="1.5" stroke-linejoin="round"/>
<polyline points="396.5,164.1 397.3,160.1 398.2,155.8 399.0,151.2 399.8,146.3 400.7,141.3 401.5,136.0 402.3,130.6 403.2,125.1 404.0,119.7 404.9,114.3 405.7,109.1 406.5,104.1 407.4,99.4 408.2,95.1 409.0,91.2 409.9,87.9 410.7,85.1 411.5,83.0 412.4,81.6 413.2,80.9 414.0,80.9 414.9,81.2 415.7,81.8 416.5,82.8 417.4,84.1 418.2,85.7 419.0,87.5 419.9,89.5 420.7,91.8 421.6,94.3 422.4,96.9 423.2,99.6 424.1,102.4 424.9,105.2 425.7,108.1 426.6,111.0 427.4,113.9 428.2,116.8 429.1,119.5 429.9,122.2 430.7,124.8 431.6,127.4 432.4,129.8 433.2,132.1 434.1,134.3 434.9,136.4 435.7,138.5 436.6,140.5 437.4,142.4 438.2,144.2 439.1,146.0 439.9,147.8 440.8,149.5 441.6,151.1 442.4,152.6 443.3,154.1 444.1,155.6 444.9,157.0 445.8,158.3 446.6,159.5 447.4,160.7 448.3,161.9 449.1,163.0 449.9,164.1 450.8,165.1 451.6,166.1 452.4,167.1 453.3,168.0 454.1,168.9 454.9,169.8 455.8,170.6 456.6,171.4 457.5,172.2 458.3,173.0 459.1,173.7 460.0,174.5 460.8,175.2 461.6,175.8 462.5,176.5 463.3,177.1 464.1,177.7 465.0,178.3 465.8,178.9 466.6,179.5 467.5,180.0 468.3,180.5 469.1,181.0 470.0,181.5 470.8,182.0 471.6,182.5 472.5,182.9 473.3,183.3 474.2,183.7 475.0,184.1 475.8,184.5 476.7,184.9 477.5,185.2 478.3,185.5 479.2,185.9 480.0,186.2 480.8,186.5 481.7,186.8 482.5,187.1 483.3,187.3 484.2,187.6 485.0,187.9 485.8,188.1 486.7,188.3 487.5,188.6 488.4,188.8 489.2,189.0 490.0,189.3 490.9,189.5 491.7,189.7 492.5,189.9 493.4,190.1 494.2,190.3 495.0,190.4 495.9,190.6 496.7,190.8 497.5,190.9 498.4,191.0 499.2,191.2 500.0,191.3 500.9,191.4 501.7,191.5 502.5,191.6 503.4,191.7 504.2,191.8 505.1,191.9 505.9,192.0 506.7,192.0 507.6,192.1 508.4,192.2 509.2,192.2 510.1,192.3 510.9,192.4 511.7,192.4 512.6,192.5 513.4,192.5 514.2,192.6 515.1,192.6 515.9,192.7 516.7,192.7 517.6,192.7 518.4,192.8 519.2,192.8 520.1,192.8 520.9,192.9 521.8,192.9 523.4,193.0 525.1,193.0 526.8,193.0 528.4,193.1 530.1,193.1 531.8,193.2 533.4,193.2 535.1,193.2 536.8,193.2 538.5,193.3 540.1,193.3 541.8,193.3 543.5,193.3 545.1,193.3 546.8,193.4 548.5,193.4 550.1,193.4 551.8,193.4 553.5,193.4 555.1,193.4 556.8,193.4 558.5,193.4 560.2,193.4 561.8,193.4 563.5,193.4 565.2,193.4 566.8,193.5 568.5,193.5 570.2,193.5 571.9,193.5 573.5,193.5 575.2,193.5 576.9,193.5 578.5,193.5 580.2,193.5 581.9,193.5 583.5,193.5 585.2,193.5 586.9,193.5 588.5,193.5 590.2,193.5 591.9,193.5 593.6,193.5 595.2,193.5 596.9,193.5 598.6,193.5 600.2,193.5 601.9,193.5 603.6,193.5 605.2,193.5 606.9,193.5 608.6,193.5 610.3,193.5 611.9,193.5 613.6,193.5 615.3,193.5 616.9,193.5 618.6,193.5 620.3,193.5 622.0,193.5 623.6,193.5 625.3,193.5 627.0,193.5 628.6,193.5 630.3,193.5 632.0,193.5 633.6,193.5 635.3,193.5 637.0,193.5 638.6,193.5 640.3,193.5 642.0,193.5 643.7,193.5 645.3,193.5 647.0,193.5" fill="none" stroke="#008080" stroke-width="1.5" stroke-linejoin="round"/>
<polyline points="396.5,167.6 397.3,164.0 398.2,160.2 399.0,156.1 399.8,151.8 400.7,147.3 401.5,142.7 402.3,137.9 403.2,133.1 404.0,128.3 404.9,123.5 405.7,118.9 406.5,114.5 407.4,110.3 408.2,106.5 409.0,103.1 409.9,100.2 410.7,97.8 411.5,95.9 412.4,94.6 413.2,94.0 414.0,94.0 414.9,94.3 415.7,94.8 416.5,95.7 417.4,96.8 418.2,98.2 419.0,99.8 419.9,101.7 420.7,103.7 421.6,105.8 422.4,108.1 423.2,110.5 424.1,113.0 424.9,115.5 425.7,118.1 426.6,120.6 427.4,123.2 428.2,125.7 429.1,128.1 429.9,130.5 430.7,132.8 431.6,135.1 432.4,137.2 433.2,139.2 434.1,141.2 434.9,143.1 435.7,144.9 436.6,146.6 437.4,148.3 438.2,150.0 439.1,151.5 439.9,153.1 440.8,154.6 441.6,156.0 442.4,157.4 443.3,158.7 444.1,160.0 444.9,161.2 445.8,162.4 446.6,163.5 447.4,164.6 448.3,165.6 449.1,166.6 449.9,167.5 450.8,168.4 451.6,169.3 452.4,170.1 453.3,171.0 454.1,171.8 454.9,172.5 455.8,173.3 456.6,174.0 457.5,174.7 458.3,175.4 459.1,176.0 460.0,176.7 460.8,177.3 461.6,177.9 462.5,178.5 463.3,179.0 464.1,179.6 465.0,180.1 465.8,180.6 466.6,181.1 467.5,181.6 468.3,182.0 469.1,182.5 470.0,182.9 470.8,183.3 471.6,183.7 472.5,184.1 473.3,184.5 474.2,184.9 475.0,185.2 475.8,185.5 476.7,185.9 477.5,186.2 478.3,186.5 479.2,186.8 480.0,187.0 480.8,187.3 481.7,187.6 482.5,187.8 483.3,188.0 484.2,188.3 485.0,188.5 485.8,188.7 486.7,188.9 487.5,189.2 488.4,189.4 489.2,189.6 490.0,189.8 490.9,190.0 491.7,190.1 492.5,190.3 493.4,190.5 494.2,190.6 495.0,190.8 495.9,190.9 496.7,191.1 497.5,191.2 498.4,191.3 499.2,191.4 500.0,191.5 500.9,191.6 501.7,191.7 502.5,191.8 503.4,191.9 504.2,192.0 505.1,192.1 505.9,192.1 506.7,192.2 507.6,192.3 508.4,192.3 509.2,192.4 510.1,192.4 510.9,192.5 511.7,192.5 512.6,192.6 513.4,192.6 514.2,192.7 515.1,192.7 515.9,192.8 516.7,192.8 517.6,192.8 518.4,192.9 519.2,192.9 520.1,192.9 520.9,192.9 521.8,193.0 523.4,193.0 525.1,193.1 526.8,193.1 528.4,193.1 530.1,193.2 531.8,193.2 533.4,193.2 535.1,193.3 536.8,193.3 538.5,193.3 540.1,193.3 541.8,193.3 543.5,193.3 545.1,193.4 546.8,193.4 548.5,193.4 550.1,193.4 551.8,193.4 553.5,193.4 555.1,193.4 556.8,193.4 558.5,193.4 560.2,193.4 561.8,193.4 563.5,193.5 565.2,193.5 566.8,193.5 568.5,193.5 570.2,193.5 571.9,193.5 573.5,193.5 575.2,193.5 576.9,193.5 578.5,193.5 580.2,193.5 581.9,193.5 583.5,193.5 585.2,193.5 586.9,193.5 588.5,193.5 590.2,193.5 591.9,193.5 593.6,193.5 595.2,193.5 596.9,193.5 598.6,193.5 600.2,193.5 601.9,193.5 603.6,193.5 605.2,193.5 606.9,193.5 608.6,193.5 610.3,193.5 611.9,193.5 613.6,193.5 615.3,193.5 616.9,193.5 618.6,193.5 620.3,193.5 622.0,193.5 623.6,193.5 625.3,193.5 627.0,193.5 628.6,193.5 630.3,193.5 632.0,193.5 633.6,193.5 635.3,193.5 637.0,193.5 638.6,193.5 640.3,193.5 642.0,193.5 643.7,193.5 645.3,193.5 647.0,193.5" fill="none" stroke="#ff00ff" stroke-width="1.5" stroke-linejoin="round"/>
<polyline points="396.5,181.8 397.3,181.0 398.2,180.2 399.0,179.3 399.8,178.5 400.7,177.8 401.5,177.0 402.3,176.2 403.2,175.5 404.0,174.9 404.9,174.2 405.7,173.7 406.5,173.1 407.4,172.7 408.2,172.3 409.0,172.0 409.9,171.8 410.7,171.6 411.5,171.5 412.4,171.5 413.2,171.5 414.0,171.6 414.9,171.7 415.7,171.8 416.5,172.0 417.4,172.1 418.2,172.3 419.0,172.6 419.9,172.8 420.7,173.1 421.6,173.4 422.4,173.7 423.2,174.1 424.1,174.4 424.9,174.8 425.7,175.2 426.6,175.6 427.4,175.9 428.2,176.3 429.1,176.7 429.9,177.0 430.7,177.4 431.6,177.7 432.4,178.0 433.2,178.3 434.1,178.6 434.9,179.0 435.7,179.3 436.6,179.6 437.4,179.9 438.2,180.2 439.1,180.5 439.9,180.8 440.8,181.1 441.6,181.4 442.4,181.7 443.3,182.0 444.1,182.3 444.9,182.6 445.8,182.9 446.6,183.2 447.4,183.5 448.3,183.7 449.1,184.0 449.9,184.2 450.8,184.5 451.6,184.7 452.4,185.0 453.3,185.2 454.1,185.4 454.9,185.7 455.8,185.9 456.6,186.1 457.5,186.3 458.3,186.5 459.1,186.8 460.0,187.0 460.8,187.2 461.6,187.3 462.5,187.5 463.3,187.7 464.1,187.9 465.0,188.1 465.8,188.3 466.6,188.4 467.5,188.6 468.3,188.7 469.1,188.9 470.0,189.1 470.8,189.2 471.6,189.4 472.5,189.5 473.3,189.6 474.2,189.8 475.0,189.9 475.8,190.0 476.7,190.2 477.5,190.3 478.3,190.4 479.2,190.5 480.0,190.6 480.8,190.7 481.7,190.8 482.5,190.9 483.3,191.0 484.2,191.1 485.0,191.2 485.8,191.3 486.7,191.4 487.5,191.5 488.4,191.6 489.2,191.7 490.0,191.7 490.9,191.8 491.7,191.9 492.5,191.9 493.4,192.0 494.2,192.1 495.0,192.1 495.9,192.2 496.7,192.2 497.5,192.3 498.4,192.3 499.2,192.4 500.0,192.4 500.9,192.5 501.7,192.5 502.5,192.6 503.4,192.6 504.2,192.6 505.1,192.7 505.9,192.7 506.7,192.7 507.6,192.8 508.4,192.8 509.2,192.8 510.1,192.9 510.9,192.9 511.7,192.9 512.6,192.9 513.4,193.0 514.2,193.0 515.1,193.0 515.9,193.0 516.7,193.1 517.6,193.1 518.4,193.1 519.2,193.1 520.1,193.1 520.9,193.1 521.8,193.2 523.4,193.2 525.1,193.2 526.8,193.2 528.4,193.3 530.1,193.3 531.8,193.3 533.4,193.3 535.1,193.3 536.8,193.3 538.5,193.4 540.1,193.4 541.8,193.4 543.5,193.4 545.1,193.4 546.8,193.4 548.5,193.4 550.1,193.4 551.8,193.4 553.5,193.4 555.1,193.4 556.8,193.4 558.5,193.5 560.2,193.5 561.8,193.5 563.5,193.5 565.2,193.5 566.8,193.5 568.5,193.5 570.2,193.5 571.9,193.5 573.5,193.5 575.2,193.5 576.9,193.5 578.5,193.5 580.2,193.5 581.9,193.5 583.5,193.5 585.2,193.5 586.9,193.5 588.5,193.5 590.2,193.5 591.9,193.5 593.6,193.5 595.2,193.5 596.9,193.5 598.6,193.5 600.2,193.5 601.9,193.5 603.6,193.5 605.2,193.5 606.9,193.5 608.6,193.5 610.3,193.5 611.9,193.5 613.6,193.5 615.3,193.5 616.9,193.5 618.6,193.5 620.3,193.5 622.0,193.5 623.6,193.5 625.3,193.5 627.0,193.5 628.6,193.5 630.3,193.5 632.0,193.5 633.6,193.5 635.3,193.5 637.0,193.5 638.6,193.5 640.3,193.5 642.0,193.5 643.7,193.5 645.3,193.5 647.0,193.5" fill="none" stroke="#808000" stroke-width="1.5" stroke-linejoin="round"/>
<path d="M485.1 23.4H506.7" stroke="#000000" stroke-width="1.4"/>
<text x="509.6" y="26.8" font-size="12.1" xml:space="preserve">P1 100nM</text>
<path d="M485.1 38.55H506.7" stroke="#ff0000" stroke-width="1.4"/>
<text x="509.6" y="41.95" font-size="12.1" xml:space="preserve">P1+NHGQDs 0.1mg/mL</text>
<path d="M485.1 53.7H506.7" stroke="#0000ff" stroke-width="1.4"/>
<text x="509.6" y="57.1" font-size="12.1" xml:space="preserve">P1+NHGQDs 0.3mg/mL</text>
<path d="M485.1 68.85H506.7" stroke="#008080" stroke-width="1.4"/>
<text x="509.6" y="72.25" font-size="12.1" xml:space="preserve">P1+NHGQDs 0.5mg/mL</text>
<path d="M485.1 84H506.7" stroke="#ff00ff" stroke-width="1.4"/>
<text x="509.6" y="87.4" font-size="12.1" xml:space="preserve">P1+NHGQDs 0.8mg/mL</text>
<path d="M485.1 99.15H506.7" stroke="#808000" stroke-width="1.4"/>
<text x="509.6" y="102.55" font-size="12.1" xml:space="preserve">P1+NHGQDs 1mg/mL</text>
<rect x="66.3" y="241.5" width="243" height="180.5" fill="none" stroke="#000" stroke-width="1.3"/>
<path d="M62.3 422H66.3M63.8 409.11H66.3M62.3 396.21H66.3M63.8 383.32H66.3M62.3 370.43H66.3M63.8 357.54H66.3M62.3 344.64H66.3M63.8 331.75H66.3M62.3 318.86H66.3M63.8 305.96H66.3M62.3 293.07H66.3M63.8 280.18H66.3M62.3 267.29H66.3M63.8 254.39H66.3M62.3 241.5H66.3M66.3 422V426M106.8 422V424.5M147.3 422V426M187.8 422V424.5M228.3 422V426M268.8 422V424.5M309.3 422V426" stroke="#000" stroke-width="1.3" fill="none"/>
<text x="59.1" y="425.8" text-anchor="end" font-size="11.5">0</text>
<text x="59.1" y="400.01" text-anchor="end" font-size="11.5">100</text>
<text x="59.1" y="374.23" text-anchor="end" font-size="11.5">200</text>
<text x="59.1" y="348.44" text-anchor="end" font-size="11.5">300</text>
<text x="59.1" y="322.66" text-anchor="end" font-size="11.5">400</text>
<text x="59.1" y="296.87" text-anchor="end" font-size="11.5">500</text>
<text x="59.1" y="271.09" text-anchor="end" font-size="11.5">600</text>
<text x="59.1" y="245.3" text-anchor="end" font-size="11.5">700</text>
<text x="66.3" y="437.8" text-anchor="middle" font-size="11.5">500</text>
<text x="147.3" y="437.8" text-anchor="middle" font-size="11.5">600</text>
<text x="228.3" y="437.8" text-anchor="middle" font-size="11.5">700</text>
<text x="309.3" y="437.8" text-anchor="middle" font-size="11.5">800</text>
<text x="187.4" y="453.6" text-anchor="middle" font-size="11.8" textLength="95.5" lengthAdjust="spacingAndGlyphs">Wavelength (nm)</text>
<text transform="translate(22,340.6) rotate(-90)" text-anchor="middle" font-size="11.8" textLength="101.5" lengthAdjust="spacingAndGlyphs">FL Intensity (a.u.)</text>
<text transform="translate(0.2,256.8) scale(1.06,1)" font-size="26">c</text>
<polyline points="66.3,379.8 67.1,374.1 67.9,367.9 68.7,361.3 69.5,354.4 70.3,347.2 71.2,339.7 72.0,332.0 72.8,324.3 73.6,316.5 74.4,308.9 75.2,301.5 76.0,294.4 76.8,287.8 77.6,281.8 78.5,276.4 79.3,271.7 80.1,267.9 80.9,265.0 81.7,263.1 82.5,262.2 83.3,262.2 84.1,262.7 84.9,263.7 85.7,265.2 86.5,267.0 87.4,269.3 88.2,271.9 89.0,274.8 89.8,278.1 90.6,281.6 91.4,285.3 92.2,289.1 93.0,293.1 93.8,297.2 94.7,301.3 95.5,305.4 96.3,309.5 97.1,313.5 97.9,317.5 98.7,321.3 99.5,325.0 100.3,328.5 101.1,331.9 101.9,335.2 102.8,338.3 103.6,341.3 104.4,344.2 105.2,347.0 106.0,349.7 106.8,352.3 107.6,354.9 108.4,357.4 109.2,359.7 110.0,362.0 110.8,364.3 111.7,366.4 112.5,368.4 113.3,370.3 114.1,372.2 114.9,374.0 115.7,375.7 116.5,377.3 117.3,378.9 118.1,380.4 118.9,381.9 119.8,383.3 120.6,384.6 121.4,385.9 122.2,387.2 123.0,388.4 123.8,389.6 124.6,390.8 125.4,391.9 126.2,393.0 127.0,394.1 127.9,395.1 128.7,396.1 129.5,397.0 130.3,398.0 131.1,398.9 131.9,399.7 132.7,400.6 133.5,401.4 134.3,402.2 135.1,402.9 136.0,403.7 136.8,404.4 137.6,405.1 138.4,405.7 139.2,406.4 140.0,407.0 140.8,407.6 141.6,408.2 142.4,408.7 143.2,409.3 144.1,409.8 144.9,410.3 145.7,410.8 146.5,411.2 147.3,411.7 148.1,412.1 148.9,412.5 149.7,412.9 150.5,413.3 151.3,413.7 152.2,414.0 153.0,414.4 153.8,414.7 154.6,415.1 155.4,415.4 156.2,415.7 157.0,416.0 157.8,416.3 158.6,416.6 159.4,416.9 160.3,417.2 161.1,417.4 161.9,417.7 162.7,417.9 163.5,418.1 164.3,418.3 165.1,418.5 165.9,418.7 166.7,418.9 167.6,419.0 168.4,419.2 169.2,419.3 170.0,419.5 170.8,419.6 171.6,419.7 172.4,419.8 173.2,419.9 174.0,420.0 174.8,420.1 175.7,420.2 176.5,420.3 177.3,420.4 178.1,420.5 178.9,420.5 179.7,420.6 180.5,420.7 181.3,420.7 182.1,420.8 182.9,420.9 183.8,420.9 184.6,421.0 185.4,421.0 186.2,421.1 187.0,421.1 187.8,421.1 189.4,421.2 191.0,421.3 192.7,421.4 194.3,421.4 195.9,421.5 197.5,421.5 199.1,421.6 200.8,421.6 202.4,421.6 204.0,421.7 205.6,421.7 207.2,421.7 208.9,421.8 210.5,421.8 212.1,421.8 213.7,421.8 215.3,421.8 217.0,421.8 218.6,421.9 220.2,421.9 221.8,421.9 223.4,421.9 225.1,421.9 226.7,421.9 228.3,421.9 229.9,421.9 231.5,421.9 233.2,421.9 234.8,421.9 236.4,422.0 238.0,422.0 239.6,422.0 241.3,422.0 242.9,422.0 244.5,422.0 246.1,422.0 247.7,422.0 249.4,422.0 251.0,422.0 252.6,422.0 254.2,422.0 255.8,422.0 257.5,422.0 259.1,422.0 260.7,422.0 262.3,422.0 263.9,422.0 265.6,422.0 267.2,422.0 268.8,422.0 270.4,422.0 272.0,422.0 273.7,422.0 275.3,422.0 276.9,422.0 278.5,422.0 280.1,422.0 281.8,422.0 283.4,422.0 285.0,422.0 286.6,422.0 288.2,422.0 289.9,422.0 291.5,422.0 293.1,422.0 294.7,422.0 296.3,422.0 298.0,422.0 299.6,422.0 301.2,422.0 302.8,422.0 304.4,422.0 306.1,422.0 307.7,422.0 309.3,422.0" fill="none" stroke="#000000" stroke-width="1.5" stroke-linejoin="round"/>
<polyline points="66.3,411.8 67.1,411.0 67.9,410.3 68.7,409.6 69.5,408.9 70.3,408.1 71.2,407.4 72.0,406.8 72.8,406.1 73.6,405.5 74.4,404.9 75.2,404.3 76.0,403.9 76.8,403.4 77.6,403.0 78.5,402.7 79.3,402.5 80.1,402.3 80.9,402.2 81.7,402.1 82.5,402.2 83.3,402.2 84.1,402.3 84.9,402.4 85.7,402.5 86.5,402.6 87.4,402.8 88.2,403.0 89.0,403.2 89.8,403.5 90.6,403.7 91.4,404.0 92.2,404.3 93.0,404.6 93.8,405.0 94.7,405.3 95.5,405.6 96.3,406.0 97.1,406.3 97.9,406.6 98.7,407.0 99.5,407.3 100.3,407.6 101.1,407.9 101.9,408.2 102.8,408.5 103.6,408.7 104.4,409.0 105.2,409.3 106.0,409.6 106.8,409.8 107.6,410.1 108.4,410.4 109.2,410.7 110.0,411.0 110.8,411.2 111.7,411.5 112.5,411.8 113.3,412.1 114.1,412.3 114.9,412.6 115.7,412.8 116.5,413.0 117.3,413.3 118.1,413.5 118.9,413.7 119.8,414.0 120.6,414.2 121.4,414.4 122.2,414.6 123.0,414.8 123.8,415.0 124.6,415.2 125.4,415.4 126.2,415.6 127.0,415.8 127.9,416.0 128.7,416.2 129.5,416.4 130.3,416.5 131.1,416.7 131.9,416.9 132.7,417.0 133.5,417.2 134.3,417.3 135.1,417.5 136.0,417.6 136.8,417.8 137.6,417.9 138.4,418.1 139.2,418.2 140.0,418.3 140.8,418.4 141.6,418.6 142.4,418.7 143.2,418.8 144.1,418.9 144.9,419.0 145.7,419.1 146.5,419.3 147.3,419.4 148.1,419.5 148.9,419.6 149.7,419.7 150.5,419.7 151.3,419.8 152.2,419.9 153.0,420.0 153.8,420.1 154.6,420.2 155.4,420.2 156.2,420.3 157.0,420.4 157.8,420.4 158.6,420.5 159.4,420.6 160.3,420.6 161.1,420.7 161.9,420.7 162.7,420.8 163.5,420.8 164.3,420.9 165.1,420.9 165.9,421.0 166.7,421.0 167.6,421.1 168.4,421.1 169.2,421.1 170.0,421.2 170.8,421.2 171.6,421.2 172.4,421.3 173.2,421.3 174.0,421.3 174.8,421.4 175.7,421.4 176.5,421.4 177.3,421.4 178.1,421.5 178.9,421.5 179.7,421.5 180.5,421.5 181.3,421.5 182.1,421.6 182.9,421.6 183.8,421.6 184.6,421.6 185.4,421.6 186.2,421.7 187.0,421.7 187.8,421.7 189.4,421.7 191.0,421.7 192.7,421.8 194.3,421.8 195.9,421.8 197.5,421.8 199.1,421.8 200.8,421.8 202.4,421.9 204.0,421.9 205.6,421.9 207.2,421.9 208.9,421.9 210.5,421.9 212.1,421.9 213.7,421.9 215.3,421.9 217.0,421.9 218.6,421.9 220.2,421.9 221.8,422.0 223.4,422.0 225.1,422.0 226.7,422.0 228.3,422.0 229.9,422.0 231.5,422.0 233.2,422.0 234.8,422.0 236.4,422.0 238.0,422.0 239.6,422.0 241.3,422.0 242.9,422.0 244.5,422.0 246.1,422.0 247.7,422.0 249.4,422.0 251.0,422.0 252.6,422.0 254.2,422.0 255.8,422.0 257.5,422.0 259.1,422.0 260.7,422.0 262.3,422.0 263.9,422.0 265.6,422.0 267.2,422.0 268.8,422.0 270.4,422.0 272.0,422.0 273.7,422.0 275.3,422.0 276.9,422.0 278.5,422.0 280.1,422.0 281.8,422.0 283.4,422.0 285.0,422.0 286.6,422.0 288.2,422.0 289.9,422.0 291.5,422.0 293.1,422.0 294.7,422.0 296.3,422.0 298.0,422.0 299.6,422.0 301.2,422.0 302.8,422.0 304.4,422.0 306.1,422.0 307.7,422.0 309.3,422.0" fill="none" stroke="#ff0000" stroke-width="1.5" stroke-linejoin="round"/>
<polyline points="66.3,411.1 67.1,410.3 67.9,409.6 68.7,408.8 69.5,408.0 70.3,407.2 71.2,406.5 72.0,405.8 72.8,405.1 73.6,404.4 74.4,403.8 75.2,403.2 76.0,402.7 76.8,402.2 77.6,401.8 78.5,401.5 79.3,401.2 80.1,401.0 80.9,400.9 81.7,400.9 82.5,400.9 83.3,400.9 84.1,401.0 84.9,401.1 85.7,401.2 86.5,401.4 87.4,401.6 88.2,401.8 89.0,402.0 89.8,402.3 90.6,402.6 91.4,402.9 92.2,403.2 93.0,403.5 93.8,403.9 94.7,404.2 95.5,404.6 96.3,404.9 97.1,405.3 97.9,405.7 98.7,406.0 99.5,406.3 100.3,406.7 101.1,407.0 101.9,407.3 102.8,407.6 103.6,407.9 104.4,408.2 105.2,408.5 106.0,408.8 106.8,409.0 107.6,409.3 108.4,409.7 109.2,410.0 110.0,410.3 110.8,410.5 111.7,410.8 112.5,411.1 113.3,411.4 114.1,411.7 114.9,411.9 115.7,412.2 116.5,412.5 117.3,412.7 118.1,413.0 118.9,413.2 119.8,413.4 120.6,413.7 121.4,413.9 122.2,414.1 123.0,414.4 123.8,414.6 124.6,414.8 125.4,415.0 126.2,415.2 127.0,415.4 127.9,415.6 128.7,415.8 129.5,416.0 130.3,416.2 131.1,416.4 131.9,416.5 132.7,416.7 133.5,416.9 134.3,417.0 135.1,417.2 136.0,417.4 136.8,417.5 137.6,417.7 138.4,417.8 139.2,417.9 140.0,418.1 140.8,418.2 141.6,418.3 142.4,418.5 143.2,418.6 144.1,418.7 144.9,418.8 145.7,419.0 146.5,419.1 147.3,419.2 148.1,419.3 148.9,419.4 149.7,419.5 150.5,419.6 151.3,419.7 152.2,419.8 153.0,419.9 153.8,420.0 154.6,420.0 155.4,420.1 156.2,420.2 157.0,420.3 157.8,420.3 158.6,420.4 159.4,420.5 160.3,420.5 161.1,420.6 161.9,420.6 162.7,420.7 163.5,420.8 164.3,420.8 165.1,420.9 165.9,420.9 166.7,420.9 167.6,421.0 168.4,421.0 169.2,421.1 170.0,421.1 170.8,421.1 171.6,421.2 172.4,421.2 173.2,421.3 174.0,421.3 174.8,421.3 175.7,421.3 176.5,421.4 177.3,421.4 178.1,421.4 178.9,421.4 179.7,421.5 180.5,421.5 181.3,421.5 182.1,421.5 182.9,421.6 183.8,421.6 184.6,421.6 185.4,421.6 186.2,421.6 187.0,421.6 187.8,421.7 189.4,421.7 191.0,421.7 192.7,421.7 194.3,421.8 195.9,421.8 197.5,421.8 199.1,421.8 200.8,421.8 202.4,421.8 204.0,421.9 205.6,421.9 207.2,421.9 208.9,421.9 210.5,421.9 212.1,421.9 213.7,421.9 215.3,421.9 217.0,421.9 218.6,421.9 220.2,421.9 221.8,421.9 223.4,422.0 225.1,422.0 226.7,422.0 228.3,422.0 229.9,422.0 231.5,422.0 233.2,422.0 234.8,422.0 236.4,422.0 238.0,422.0 239.6,422.0 241.3,422.0 242.9,422.0 244.5,422.0 246.1,422.0 247.7,422.0 249.4,422.0 251.0,422.0 252.6,422.0 254.2,422.0 255.8,422.0 257.5,422.0 259.1,422.0 260.7,422.0 262.3,422.0 263.9,422.0 265.6,422.0 267.2,422.0 268.8,422.0 270.4,422.0 272.0,422.0 273.7,422.0 275.3,422.0 276.9,422.0 278.5,422.0 280.1,422.0 281.8,422.0 283.4,422.0 285.0,422.0 286.6,422.0 288.2,422.0 289.9,422.0 291.5,422.0 293.1,422.0 294.7,422.0 296.3,422.0 298.0,422.0 299.6,422.0 301.2,422.0 302.8,422.0 304.4,422.0 306.1,422.0 307.7,422.0 309.3,422.0" fill="none" stroke="#0000ff" stroke-width="1.5" stroke-linejoin="round"/>
<polyline points="66.3,410.8 67.1,410.1 67.9,409.3 68.7,408.5 69.5,407.7 70.3,406.9 71.2,406.1 72.0,405.4 72.8,404.7 73.6,404.0 74.4,403.3 75.2,402.7 76.0,402.2 76.8,401.7 77.6,401.3 78.5,401.0 79.3,400.7 80.1,400.5 80.9,400.4 81.7,400.3 82.5,400.4 83.3,400.4 84.1,400.5 84.9,400.6 85.7,400.7 86.5,400.9 87.4,401.1 88.2,401.3 89.0,401.5 89.8,401.8 90.6,402.1 91.4,402.4 92.2,402.7 93.0,403.1 93.8,403.4 94.7,403.8 95.5,404.2 96.3,404.5 97.1,404.9 97.9,405.3 98.7,405.6 99.5,406.0 100.3,406.3 101.1,406.6 101.9,406.9 102.8,407.2 103.6,407.5 104.4,407.8 105.2,408.1 106.0,408.4 106.8,408.7 107.6,409.0 108.4,409.3 109.2,409.7 110.0,410.0 110.8,410.3 111.7,410.6 112.5,410.9 113.3,411.1 114.1,411.4 114.9,411.7 115.7,412.0 116.5,412.2 117.3,412.5 118.1,412.7 118.9,413.0 119.8,413.2 120.6,413.5 121.4,413.7 122.2,413.9 123.0,414.2 123.8,414.4 124.6,414.6 125.4,414.8 126.2,415.0 127.0,415.3 127.9,415.5 128.7,415.7 129.5,415.8 130.3,416.0 131.1,416.2 131.9,416.4 132.7,416.6 133.5,416.8 134.3,416.9 135.1,417.1 136.0,417.2 136.8,417.4 137.6,417.6 138.4,417.7 139.2,417.8 140.0,418.0 140.8,418.1 141.6,418.3 142.4,418.4 143.2,418.5 144.1,418.6 144.9,418.8 145.7,418.9 146.5,419.0 147.3,419.1 148.1,419.2 148.9,419.3 149.7,419.4 150.5,419.5 151.3,419.6 152.2,419.7 153.0,419.8 153.8,419.9 154.6,420.0 155.4,420.1 156.2,420.1 157.0,420.2 157.8,420.3 158.6,420.4 159.4,420.4 160.3,420.5 161.1,420.6 161.9,420.6 162.7,420.7 163.5,420.7 164.3,420.8 165.1,420.8 165.9,420.9 166.7,420.9 167.6,421.0 168.4,421.0 169.2,421.1 170.0,421.1 170.8,421.1 171.6,421.2 172.4,421.2 173.2,421.2 174.0,421.3 174.8,421.3 175.7,421.3 176.5,421.4 177.3,421.4 178.1,421.4 178.9,421.4 179.7,421.5 180.5,421.5 181.3,421.5 182.1,421.5 182.9,421.5 183.8,421.6 184.6,421.6 185.4,421.6 186.2,421.6 187.0,421.6 187.8,421.7 189.4,421.7 191.0,421.7 192.7,421.7 194.3,421.8 195.9,421.8 197.5,421.8 199.1,421.8 200.8,421.8 202.4,421.8 204.0,421.9 205.6,421.9 207.2,421.9 208.9,421.9 210.5,421.9 212.1,421.9 213.7,421.9 215.3,421.9 217.0,421.9 218.6,421.9 220.2,421.9 221.8,421.9 223.4,422.0 225.1,422.0 226.7,422.0 228.3,422.0 229.9,422.0 231.5,422.0 233.2,422.0 234.8,422.0 236.4,422.0 238.0,422.0 239.6,422.0 241.3,422.0 242.9,422.0 244.5,422.0 246.1,422.0 247.7,422.0 249.4,422.0 251.0,422.0 252.6,422.0 254.2,422.0 255.8,422.0 257.5,422.0 259.1,422.0 260.7,422.0 262.3,422.0 263.9,422.0 265.6,422.0 267.2,422.0 268.8,422.0 270.4,422.0 272.0,422.0 273.7,422.0 275.3,422.0 276.9,422.0 278.5,422.0 280.1,422.0 281.8,422.0 283.4,422.0 285.0,422.0 286.6,422.0 288.2,422.0 289.9,422.0 291.5,422.0 293.1,422.0 294.7,422.0 296.3,422.0 298.0,422.0 299.6,422.0 301.2,422.0 302.8,422.0 304.4,422.0 306.1,422.0 307.7,422.0 309.3,422.0" fill="none" stroke="#008080" stroke-width="1.5" stroke-linejoin="round"/>
<polyline points="66.3,411.4 67.1,410.6 67.9,409.9 68.7,409.1 69.5,408.4 70.3,407.6 71.2,406.9 72.0,406.2 72.8,405.5 73.6,404.8 74.4,404.2 75.2,403.7 76.0,403.1 76.8,402.7 77.6,402.3 78.5,402.0 79.3,401.7 80.1,401.5 80.9,401.4 81.7,401.4 82.5,401.4 83.3,401.4 84.1,401.5 84.9,401.6 85.7,401.7 86.5,401.9 87.4,402.1 88.2,402.3 89.0,402.5 89.8,402.7 90.6,403.0 91.4,403.3 92.2,403.6 93.0,404.0 93.8,404.3 94.7,404.7 95.5,405.0 96.3,405.4 97.1,405.7 97.9,406.1 98.7,406.4 99.5,406.7 100.3,407.0 101.1,407.3 101.9,407.6 102.8,407.9 103.6,408.2 104.4,408.5 105.2,408.8 106.0,409.1 106.8,409.4 107.6,409.7 108.4,410.0 109.2,410.2 110.0,410.5 110.8,410.8 111.7,411.1 112.5,411.4 113.3,411.7 114.1,411.9 114.9,412.2 115.7,412.4 116.5,412.7 117.3,412.9 118.1,413.2 118.9,413.4 119.8,413.7 120.6,413.9 121.4,414.1 122.2,414.3 123.0,414.5 123.8,414.8 124.6,415.0 125.4,415.2 126.2,415.4 127.0,415.6 127.9,415.8 128.7,416.0 129.5,416.1 130.3,416.3 131.1,416.5 131.9,416.7 132.7,416.8 133.5,417.0 134.3,417.2 135.1,417.3 136.0,417.5 136.8,417.6 137.6,417.8 138.4,417.9 139.2,418.0 140.0,418.2 140.8,418.3 141.6,418.4 142.4,418.6 143.2,418.7 144.1,418.8 144.9,418.9 145.7,419.0 146.5,419.1 147.3,419.3 148.1,419.4 148.9,419.5 149.7,419.6 150.5,419.7 151.3,419.7 152.2,419.8 153.0,419.9 153.8,420.0 154.6,420.1 155.4,420.2 156.2,420.2 157.0,420.3 157.8,420.4 158.6,420.4 159.4,420.5 160.3,420.6 161.1,420.6 161.9,420.7 162.7,420.7 163.5,420.8 164.3,420.8 165.1,420.9 165.9,420.9 166.7,421.0 167.6,421.0 168.4,421.1 169.2,421.1 170.0,421.1 170.8,421.2 171.6,421.2 172.4,421.2 173.2,421.3 174.0,421.3 174.8,421.3 175.7,421.4 176.5,421.4 177.3,421.4 178.1,421.4 178.9,421.5 179.7,421.5 180.5,421.5 181.3,421.5 182.1,421.5 182.9,421.6 183.8,421.6 184.6,421.6 185.4,421.6 186.2,421.6 187.0,421.7 187.8,421.7 189.4,421.7 191.0,421.7 192.7,421.7 194.3,421.8 195.9,421.8 197.5,421.8 199.1,421.8 200.8,421.8 202.4,421.9 204.0,421.9 205.6,421.9 207.2,421.9 208.9,421.9 210.5,421.9 212.1,421.9 213.7,421.9 215.3,421.9 217.0,421.9 218.6,421.9 220.2,421.9 221.8,422.0 223.4,422.0 225.1,422.0 226.7,422.0 228.3,422.0 229.9,422.0 231.5,422.0 233.2,422.0 234.8,422.0 236.4,422.0 238.0,422.0 239.6,422.0 241.3,422.0 242.9,422.0 244.5,422.0 246.1,422.0 247.7,422.0 249.4,422.0 251.0,422.0 252.6,422.0 254.2,422.0 255.8,422.0 257.5,422.0 259.1,422.0 260.7,422.0 262.3,422.0 263.9,422.0 265.6,422.0 267.2,422.0 268.8,422.0 270.4,422.0 272.0,422.0 273.7,422.0 275.3,422.0 276.9,422.0 278.5,422.0 280.1,422.0 281.8,422.0 283.4,422.0 285.0,422.0 286.6,422.0 288.2,422.0 289.9,422.0 291.5,422.0 293.1,422.0 294.7,422.0 296.3,422.0 298.0,422.0 299.6,422.0 301.2,422.0 302.8,422.0 304.4,422.0 306.1,422.0 307.7,422.0 309.3,422.0" fill="none" stroke="#ff00ff" stroke-width="1.5" stroke-linejoin="round"/>
<polyline points="66.3,411.1 67.1,410.3 67.9,409.6 68.7,408.8 69.5,408.0 70.3,407.2 71.2,406.5 72.0,405.8 72.8,405.1 73.6,404.4 74.4,403.8 75.2,403.2 76.0,402.7 76.8,402.2 77.6,401.8 78.5,401.5 79.3,401.2 80.1,401.0 80.9,400.9 81.7,400.9 82.5,400.9 83.3,400.9 84.1,401.0 84.9,401.1 85.7,401.2 86.5,401.4 87.4,401.6 88.2,401.8 89.0,402.0 89.8,402.3 90.6,402.6 91.4,402.9 92.2,403.2 93.0,403.5 93.8,403.9 94.7,404.2 95.5,404.6 96.3,404.9 97.1,405.3 97.9,405.7 98.7,406.0 99.5,406.3 100.3,406.7 101.1,407.0 101.9,407.3 102.8,407.6 103.6,407.9 104.4,408.2 105.2,408.5 106.0,408.8 106.8,409.0 107.6,409.3 108.4,409.7 109.2,410.0 110.0,410.3 110.8,410.5 111.7,410.8 112.5,411.1 113.3,411.4 114.1,411.7 114.9,411.9 115.7,412.2 116.5,412.5 117.3,412.7 118.1,413.0 118.9,413.2 119.8,413.4 120.6,413.7 121.4,413.9 122.2,414.1 123.0,414.4 123.8,414.6 124.6,414.8 125.4,415.0 126.2,415.2 127.0,415.4 127.9,415.6 128.7,415.8 129.5,416.0 130.3,416.2 131.1,416.4 131.9,416.5 132.7,416.7 133.5,416.9 134.3,417.0 135.1,417.2 136.0,417.4 136.8,417.5 137.6,417.7 138.4,417.8 139.2,417.9 140.0,418.1 140.8,418.2 141.6,418.3 142.4,418.5 143.2,418.6 144.1,418.7 144.9,418.8 145.7,419.0 146.5,419.1 147.3,419.2 148.1,419.3 148.9,419.4 149.7,419.5 150.5,419.6 151.3,419.7 152.2,419.8 153.0,419.9 153.8,420.0 154.6,420.0 155.4,420.1 156.2,420.2 157.0,420.3 157.8,420.3 158.6,420.4 159.4,420.5 160.3,420.5 161.1,420.6 161.9,420.6 162.7,420.7 163.5,420.8 164.3,420.8 165.1,420.9 165.9,420.9 166.7,420.9 167.6,421.0 168.4,421.0 169.2,421.1 170.0,421.1 170.8,421.1 171.6,421.2 172.4,421.2 173.2,421.3 174.0,421.3 174.8,421.3 175.7,421.3 176.5,421.4 177.3,421.4 178.1,421.4 178.9,421.4 179.7,421.5 180.5,421.5 181.3,421.5 182.1,421.5 182.9,421.6 183.8,421.6 184.6,421.6 185.4,421.6 186.2,421.6 187.0,421.6 187.8,421.7 189.4,421.7 191.0,421.7 192.7,421.7 194.3,421.8 195.9,421.8 197.5,421.8 199.1,421.8 200.8,421.8 202.4,421.8 204.0,421.9 205.6,421.9 207.2,421.9 208.9,421.9 210.5,421.9 212.1,421.9 213.7,421.9 215.3,421.9 217.0,421.9 218.6,421.9 220.2,421.9 221.8,421.9 223.4,422.0 225.1,422.0 226.7,422.0 228.3,422.0 229.9,422.0 231.5,422.0 233.2,422.0 234.8,422.0 236.4,422.0 238.0,422.0 239.6,422.0 241.3,422.0 242.9,422.0 244.5,422.0 246.1,422.0 247.7,422.0 249.4,422.0 251.0,422.0 252.6,422.0 254.2,422.0 255.8,422.0 257.5,422.0 259.1,422.0 260.7,422.0 262.3,422.0 263.9,422.0 265.6,422.0 267.2,422.0 268.8,422.0 270.4,422.0 272.0,422.0 273.7,422.0 275.3,422.0 276.9,422.0 278.5,422.0 280.1,422.0 281.8,422.0 283.4,422.0 285.0,422.0 286.6,422.0 288.2,422.0 289.9,422.0 291.5,422.0 293.1,422.0 294.7,422.0 296.3,422.0 298.0,422.0 299.6,422.0 301.2,422.0 302.8,422.0 304.4,422.0 306.1,422.0 307.7,422.0 309.3,422.0" fill="none" stroke="#808000" stroke-width="1.5" stroke-linejoin="round"/>
<polyline points="66.3,411.4 67.1,410.6 67.9,409.9 68.7,409.1 69.5,408.4 70.3,407.6 71.2,406.9 72.0,406.2 72.8,405.5 73.6,404.8 74.4,404.2 75.2,403.7 76.0,403.1 76.8,402.7 77.6,402.3 78.5,402.0 79.3,401.7 80.1,401.5 80.9,401.4 81.7,401.4 82.5,401.4 83.3,401.4 84.1,401.5 84.9,401.6 85.7,401.7 86.5,401.9 87.4,402.1 88.2,402.3 89.0,402.5 89.8,402.7 90.6,403.0 91.4,403.3 92.2,403.6 93.0,404.0 93.8,404.3 94.7,404.7 95.5,405.0 96.3,405.4 97.1,405.7 97.9,406.1 98.7,406.4 99.5,406.7 100.3,407.0 101.1,407.3 101.9,407.6 102.8,407.9 103.6,408.2 104.4,408.5 105.2,408.8 106.0,409.1 106.8,409.4 107.6,409.7 108.4,410.0 109.2,410.2 110.0,410.5 110.8,410.8 111.7,411.1 112.5,411.4 113.3,411.7 114.1,411.9 114.9,412.2 115.7,412.4 116.5,412.7 117.3,412.9 118.1,413.2 118.9,413.4 119.8,413.7 120.6,413.9 121.4,414.1 122.2,414.3 123.0,414.5 123.8,414.8 124.6,415.0 125.4,415.2 126.2,415.4 127.0,415.6 127.9,415.8 128.7,416.0 129.5,416.1 130.3,416.3 131.1,416.5 131.9,416.7 132.7,416.8 133.5,417.0 134.3,417.2 135.1,417.3 136.0,417.5 136.8,417.6 137.6,417.8 138.4,417.9 139.2,418.0 140.0,418.2 140.8,418.3 141.6,418.4 142.4,418.6 143.2,418.7 144.1,418.8 144.9,418.9 145.7,419.0 146.5,419.1 147.3,419.3 148.1,419.4 148.9,419.5 149.7,419.6 150.5,419.7 151.3,419.7 152.2,419.8 153.0,419.9 153.8,420.0 154.6,420.1 155.4,420.2 156.2,420.2 157.0,420.3 157.8,420.4 158.6,420.4 159.4,420.5 160.3,420.6 161.1,420.6 161.9,420.7 162.7,420.7 163.5,420.8 164.3,420.8 165.1,420.9 165.9,420.9 166.7,421.0 167.6,421.0 168.4,421.1 169.2,421.1 170.0,421.1 170.8,421.2 171.6,421.2 172.4,421.2 173.2,421.3 174.0,421.3 174.8,421.3 175.7,421.4 176.5,421.4 177.3,421.4 178.1,421.4 178.9,421.5 179.7,421.5 180.5,421.5 181.3,421.5 182.1,421.5 182.9,421.6 183.8,421.6 184.6,421.6 185.4,421.6 186.2,421.6 187.0,421.7 187.8,421.7 189.4,421.7 191.0,421.7 192.7,421.7 194.3,421.8 195.9,421.8 197.5,421.8 199.1,421.8 200.8,421.8 202.4,421.9 204.0,421.9 205.6,421.9 207.2,421.9 208.9,421.9 210.5,421.9 212.1,421.9 213.7,421.9 215.3,421.9 217.0,421.9 218.6,421.9 220.2,421.9 221.8,422.0 223.4,422.0 225.1,422.0 226.7,422.0 228.3,422.0 229.9,422.0 231.5,422.0 233.2,422.0 234.8,422.0 236.4,422.0 238.0,422.0 239.6,422.0 241.3,422.0 242.9,422.0 244.5,422.0 246.1,422.0 247.7,422.0 249.4,422.0 251.0,422.0 252.6,422.0 254.2,422.0 255.8,422.0 257.5,422.0 259.1,422.0 260.7,422.0 262.3,422.0 263.9,422.0 265.6,422.0 267.2,422.0 268.8,422.0 270.4,422.0 272.0,422.0 273.7,422.0 275.3,422.0 276.9,422.0 278.5,422.0 280.1,422.0 281.8,422.0 283.4,422.0 285.0,422.0 286.6,422.0 288.2,422.0 289.9,422.0 291.5,422.0 293.1,422.0 294.7,422.0 296.3,422.0 298.0,422.0 299.6,422.0 301.2,422.0 302.8,422.0 304.4,422.0 306.1,422.0 307.7,422.0 309.3,422.0" fill="none" stroke="#000080" stroke-width="1.5" stroke-linejoin="round"/>
<path d="M224.5 253.3H245.6" stroke="#000000" stroke-width="1.4"/>
<text x="248.7" y="256.7" font-size="11.8" xml:space="preserve">P1 100nM</text>
<path d="M224.5 268.35H245.6" stroke="#ff0000" stroke-width="1.4"/>
<text x="248.7" y="271.75" font-size="11.8" xml:space="preserve">0 min</text>
<path d="M224.5 283.4H245.6" stroke="#0000ff" stroke-width="1.4"/>
<text x="248.7" y="286.8" font-size="11.8" xml:space="preserve">2 min</text>
<path d="M224.5 298.45H245.6" stroke="#008080" stroke-width="1.4"/>
<text x="248.7" y="301.85" font-size="11.8" xml:space="preserve">5 min</text>
<path d="M224.5 313.5H245.6" stroke="#ff00ff" stroke-width="1.4"/>
<text x="248.7" y="316.9" font-size="11.8" xml:space="preserve">10 min</text>
<path d="M224.5 328.55H245.6" stroke="#808000" stroke-width="1.4"/>
<text x="248.7" y="331.95" font-size="11.8" xml:space="preserve">20 min</text>
<path d="M224.5 343.6H245.6" stroke="#000080" stroke-width="1.4"/>
<text x="248.7" y="347" font-size="11.8" xml:space="preserve">30 min</text>
<rect x="398" y="243.3" width="252.8" height="180" fill="none" stroke="#000" stroke-width="1.3"/>
<path d="M394 423.3H398M395.5 410.44H398M394 397.59H398M395.5 384.73H398M394 371.87H398M395.5 359.01H398M394 346.16H398M395.5 333.3H398M394 320.44H398M395.5 307.59H398M394 294.73H398M395.5 281.87H398M394 269.01H398M395.5 256.16H398M394 243.3H398M398 423.3V427.3M440.13 423.3V425.8M482.27 423.3V427.3M524.4 423.3V425.8M566.53 423.3V427.3M608.67 423.3V425.8M650.8 423.3V427.3" stroke="#000" stroke-width="1.3" fill="none"/>
<text x="390.8" y="427.1" text-anchor="end" font-size="11.5">0</text>
<text x="390.8" y="401.39" text-anchor="end" font-size="11.5">100</text>
<text x="390.8" y="375.67" text-anchor="end" font-size="11.5">200</text>
<text x="390.8" y="349.96" text-anchor="end" font-size="11.5">300</text>
<text x="390.8" y="324.24" text-anchor="end" font-size="11.5">400</text>
<text x="390.8" y="298.53" text-anchor="end" font-size="11.5">500</text>
<text x="390.8" y="272.81" text-anchor="end" font-size="11.5">600</text>
<text x="390.8" y="247.1" text-anchor="end" font-size="11.5">700</text>
<text x="398" y="439.1" text-anchor="middle" font-size="11.5">500</text>
<text x="482.27" y="439.1" text-anchor="middle" font-size="11.5">600</text>
<text x="566.53" y="439.1" text-anchor="middle" font-size="11.5">700</text>
<text x="650.8" y="439.1" text-anchor="middle" font-size="11.5">800</text>
<text x="524.3" y="454" text-anchor="middle" font-size="12.2" textLength="99" lengthAdjust="spacingAndGlyphs">Wavelength (nm)</text>
<text transform="translate(354.7,345.4) rotate(-90)" text-anchor="middle" font-size="12.2" textLength="102" lengthAdjust="spacingAndGlyphs">FL Intensity (a.u.)</text>
<text transform="translate(341,254.5) scale(1.12,1)" font-size="26">d</text>
<polyline points="398.0,381.2 398.8,375.5 399.7,369.3 400.5,362.8 401.4,355.9 402.2,348.7 403.1,341.2 403.9,333.6 404.7,325.8 405.6,318.1 406.4,310.5 407.3,303.1 408.1,296.1 409.0,289.5 409.8,283.5 410.6,278.1 411.5,273.4 412.3,269.7 413.2,266.8 414.0,264.9 414.9,264.0 415.7,264.0 416.5,264.5 417.4,265.5 418.2,266.9 419.1,268.7 419.9,271.0 420.8,273.6 421.6,276.6 422.4,279.8 423.3,283.3 424.1,287.0 425.0,290.8 425.8,294.8 426.7,298.8 427.5,302.9 428.3,307.0 429.2,311.1 430.0,315.1 430.9,319.0 431.7,322.9 432.5,326.5 433.4,330.1 434.2,333.5 435.1,336.7 435.9,339.9 436.8,342.9 437.6,345.7 438.4,348.5 439.3,351.2 440.1,353.8 441.0,356.4 441.8,358.8 442.7,361.2 443.5,363.5 444.3,365.7 445.2,367.8 446.0,369.9 446.9,371.8 447.7,373.6 448.6,375.4 449.4,377.1 450.2,378.8 451.1,380.3 451.9,381.8 452.8,383.3 453.6,384.7 454.5,386.0 455.3,387.3 456.1,388.6 457.0,389.8 457.8,391.0 458.7,392.2 459.5,393.3 460.4,394.4 461.2,395.4 462.0,396.5 462.9,397.4 463.7,398.4 464.6,399.3 465.4,400.2 466.3,401.1 467.1,401.9 467.9,402.7 468.8,403.5 469.6,404.3 470.5,405.0 471.3,405.7 472.2,406.4 473.0,407.1 473.8,407.7 474.7,408.4 475.5,408.9 476.4,409.5 477.2,410.1 478.1,410.6 478.9,411.1 479.7,411.6 480.6,412.1 481.4,412.6 482.3,413.0 483.1,413.4 484.0,413.8 484.8,414.2 485.6,414.6 486.5,415.0 487.3,415.3 488.2,415.7 489.0,416.0 489.9,416.4 490.7,416.7 491.5,417.0 492.4,417.3 493.2,417.6 494.1,417.9 494.9,418.2 495.7,418.5 496.6,418.7 497.4,419.0 498.3,419.2 499.1,419.4 500.0,419.6 500.8,419.8 501.6,420.0 502.5,420.2 503.3,420.4 504.2,420.5 505.0,420.6 505.9,420.8 506.7,420.9 507.5,421.0 508.4,421.1 509.2,421.2 510.1,421.3 510.9,421.4 511.8,421.5 512.6,421.6 513.4,421.7 514.3,421.8 515.1,421.8 516.0,421.9 516.8,422.0 517.7,422.0 518.5,422.1 519.3,422.2 520.2,422.2 521.0,422.3 521.9,422.3 522.7,422.4 523.6,422.4 524.4,422.5 526.1,422.5 527.8,422.6 529.5,422.7 531.1,422.7 532.8,422.8 534.5,422.8 536.2,422.9 537.9,422.9 539.6,422.9 541.3,423.0 542.9,423.0 544.6,423.0 546.3,423.1 548.0,423.1 549.7,423.1 551.4,423.1 553.1,423.1 554.7,423.1 556.4,423.2 558.1,423.2 559.8,423.2 561.5,423.2 563.2,423.2 564.8,423.2 566.5,423.2 568.2,423.2 569.9,423.2 571.6,423.2 573.3,423.2 575.0,423.3 576.6,423.3 578.3,423.3 580.0,423.3 581.7,423.3 583.4,423.3 585.1,423.3 586.8,423.3 588.4,423.3 590.1,423.3 591.8,423.3 593.5,423.3 595.2,423.3 596.9,423.3 598.6,423.3 600.2,423.3 601.9,423.3 603.6,423.3 605.3,423.3 607.0,423.3 608.7,423.3 610.4,423.3 612.0,423.3 613.7,423.3 615.4,423.3 617.1,423.3 618.8,423.3 620.5,423.3 622.1,423.3 623.8,423.3 625.5,423.3 627.2,423.3 628.9,423.3 630.6,423.3 632.3,423.3 633.9,423.3 635.6,423.3 637.3,423.3 639.0,423.3 640.7,423.3 642.4,423.3 644.1,423.3 645.7,423.3 647.4,423.3 649.1,423.3 650.8,423.3" fill="none" stroke="#000000" stroke-width="1.5" stroke-linejoin="round"/>
<polyline points="398.0,416.0 398.8,415.3 399.7,414.6 400.5,413.9 401.4,413.2 402.2,412.5 403.1,411.7 403.9,411.0 404.7,410.3 405.6,409.6 406.4,408.9 407.3,408.3 408.1,407.7 409.0,407.2 409.8,406.7 410.6,406.3 411.5,405.9 412.3,405.7 413.2,405.5 414.0,405.3 414.9,405.3 415.7,405.3 416.5,405.4 417.4,405.5 418.2,405.6 419.1,405.7 419.9,405.9 420.8,406.2 421.6,406.4 422.4,406.7 423.3,407.0 424.1,407.3 425.0,407.6 425.8,408.0 426.7,408.3 427.5,408.7 428.3,409.1 429.2,409.5 430.0,409.8 430.9,410.2 431.7,410.6 432.5,410.9 433.4,411.2 434.2,411.6 435.1,411.9 435.9,412.2 436.8,412.5 437.6,412.8 438.4,413.1 439.3,413.3 440.1,413.6 441.0,413.9 441.8,414.1 442.7,414.4 443.5,414.7 444.3,414.9 445.2,415.2 446.0,415.4 446.9,415.7 447.7,415.9 448.6,416.1 449.4,416.3 450.2,416.5 451.1,416.7 451.9,416.9 452.8,417.1 453.6,417.3 454.5,417.5 455.3,417.7 456.1,417.8 457.0,418.0 457.8,418.2 458.7,418.3 459.5,418.5 460.4,418.6 461.2,418.8 462.0,418.9 462.9,419.1 463.7,419.2 464.6,419.4 465.4,419.5 466.3,419.6 467.1,419.7 467.9,419.9 468.8,420.0 469.6,420.1 470.5,420.2 471.3,420.3 472.2,420.4 473.0,420.5 473.8,420.6 474.7,420.7 475.5,420.8 476.4,420.9 477.2,421.0 478.1,421.1 478.9,421.2 479.7,421.2 480.6,421.3 481.4,421.4 482.3,421.5 483.1,421.5 484.0,421.6 484.8,421.7 485.6,421.7 486.5,421.8 487.3,421.9 488.2,421.9 489.0,422.0 489.9,422.0 490.7,422.1 491.5,422.2 492.4,422.2 493.2,422.3 494.1,422.3 494.9,422.3 495.7,422.4 496.6,422.4 497.4,422.5 498.3,422.5 499.1,422.5 500.0,422.6 500.8,422.6 501.6,422.6 502.5,422.7 503.3,422.7 504.2,422.7 505.0,422.8 505.9,422.8 506.7,422.8 507.5,422.8 508.4,422.8 509.2,422.9 510.1,422.9 510.9,422.9 511.8,422.9 512.6,422.9 513.4,423.0 514.3,423.0 515.1,423.0 516.0,423.0 516.8,423.0 517.7,423.0 518.5,423.0 519.3,423.1 520.2,423.1 521.0,423.1 521.9,423.1 522.7,423.1 523.6,423.1 524.4,423.1 526.1,423.1 527.8,423.1 529.5,423.2 531.1,423.2 532.8,423.2 534.5,423.2 536.2,423.2 537.9,423.2 539.6,423.2 541.3,423.2 542.9,423.2 544.6,423.2 546.3,423.2 548.0,423.2 549.7,423.3 551.4,423.3 553.1,423.3 554.7,423.3 556.4,423.3 558.1,423.3 559.8,423.3 561.5,423.3 563.2,423.3 564.8,423.3 566.5,423.3 568.2,423.3 569.9,423.3 571.6,423.3 573.3,423.3 575.0,423.3 576.6,423.3 578.3,423.3 580.0,423.3 581.7,423.3 583.4,423.3 585.1,423.3 586.8,423.3 588.4,423.3 590.1,423.3 591.8,423.3 593.5,423.3 595.2,423.3 596.9,423.3 598.6,423.3 600.2,423.3 601.9,423.3 603.6,423.3 605.3,423.3 607.0,423.3 608.7,423.3 610.4,423.3 612.0,423.3 613.7,423.3 615.4,423.3 617.1,423.3 618.8,423.3 620.5,423.3 622.1,423.3 623.8,423.3 625.5,423.3 627.2,423.3 628.9,423.3 630.6,423.3 632.3,423.3 633.9,423.3 635.6,423.3 637.3,423.3 639.0,423.3 640.7,423.3 642.4,423.3 644.1,423.3 645.7,423.3 647.4,423.3 649.1,423.3 650.8,423.3" fill="none" stroke="#ff0000" stroke-width="1.5" stroke-linejoin="round"/>
<polyline points="398.0,407.7 398.8,405.9 399.7,404.0 400.5,401.9 401.4,399.9 402.2,397.7 403.1,395.5 403.9,393.3 404.7,391.1 405.6,389.0 406.4,386.9 407.3,384.8 408.1,383.0 409.0,381.2 409.8,379.6 410.6,378.3 411.5,377.1 412.3,376.2 413.2,375.5 414.0,375.1 414.9,375.0 415.7,375.0 416.5,375.2 417.4,375.5 418.2,376.0 419.1,376.5 419.9,377.2 420.8,377.9 421.6,378.8 422.4,379.7 423.3,380.7 424.1,381.7 425.0,382.8 425.8,383.9 426.7,385.1 427.5,386.3 428.3,387.4 429.2,388.6 430.0,389.7 430.9,390.9 431.7,391.9 432.5,393.0 433.4,394.0 434.2,395.0 435.1,395.9 435.9,396.8 436.8,397.7 437.6,398.5 438.4,399.3 439.3,400.1 440.1,400.9 441.0,401.7 441.8,402.4 442.7,403.1 443.5,403.8 444.3,404.5 445.2,405.1 446.0,405.8 446.9,406.4 447.7,406.9 448.6,407.5 449.4,408.0 450.2,408.5 451.1,409.0 451.9,409.5 452.8,410.0 453.6,410.4 454.5,410.8 455.3,411.3 456.1,411.7 457.0,412.1 457.8,412.4 458.7,412.8 459.5,413.2 460.4,413.5 461.2,413.9 462.0,414.2 462.9,414.5 463.7,414.8 464.6,415.1 465.4,415.4 466.3,415.7 467.1,416.0 467.9,416.3 468.8,416.5 469.6,416.8 470.5,417.0 471.3,417.3 472.2,417.5 473.0,417.7 473.8,417.9 474.7,418.1 475.5,418.3 476.4,418.5 477.2,418.7 478.1,418.9 478.9,419.1 479.7,419.2 480.6,419.4 481.4,419.6 482.3,419.7 483.1,419.9 484.0,420.0 484.8,420.1 485.6,420.3 486.5,420.4 487.3,420.5 488.2,420.6 489.0,420.8 489.9,420.9 490.7,421.0 491.5,421.1 492.4,421.2 493.2,421.3 494.1,421.4 494.9,421.5 495.7,421.6 496.6,421.7 497.4,421.8 498.3,421.8 499.1,421.9 500.0,422.0 500.8,422.1 501.6,422.1 502.5,422.2 503.3,422.2 504.2,422.3 505.0,422.3 505.9,422.4 506.7,422.4 507.5,422.5 508.4,422.5 509.2,422.5 510.1,422.6 510.9,422.6 511.8,422.6 512.6,422.7 513.4,422.7 514.3,422.7 515.1,422.8 516.0,422.8 516.8,422.8 517.7,422.8 518.5,422.9 519.3,422.9 520.2,422.9 521.0,422.9 521.9,422.9 522.7,422.9 523.6,423.0 524.4,423.0 526.1,423.0 527.8,423.0 529.5,423.1 531.1,423.1 532.8,423.1 534.5,423.1 536.2,423.1 537.9,423.2 539.6,423.2 541.3,423.2 542.9,423.2 544.6,423.2 546.3,423.2 548.0,423.2 549.7,423.2 551.4,423.2 553.1,423.2 554.7,423.2 556.4,423.2 558.1,423.3 559.8,423.3 561.5,423.3 563.2,423.3 564.8,423.3 566.5,423.3 568.2,423.3 569.9,423.3 571.6,423.3 573.3,423.3 575.0,423.3 576.6,423.3 578.3,423.3 580.0,423.3 581.7,423.3 583.4,423.3 585.1,423.3 586.8,423.3 588.4,423.3 590.1,423.3 591.8,423.3 593.5,423.3 595.2,423.3 596.9,423.3 598.6,423.3 600.2,423.3 601.9,423.3 603.6,423.3 605.3,423.3 607.0,423.3 608.7,423.3 610.4,423.3 612.0,423.3 613.7,423.3 615.4,423.3 617.1,423.3 618.8,423.3 620.5,423.3 622.1,423.3 623.8,423.3 625.5,423.3 627.2,423.3 628.9,423.3 630.6,423.3 632.3,423.3 633.9,423.3 635.6,423.3 637.3,423.3 639.0,423.3 640.7,423.3 642.4,423.3 644.1,423.3 645.7,423.3 647.4,423.3 649.1,423.3 650.8,423.3" fill="none" stroke="#0000ff" stroke-width="1.5" stroke-linejoin="round"/>
<polyline points="398.0,412.2 398.8,411.4 399.7,410.6 400.5,409.8 401.4,409.0 402.2,408.2 403.1,407.5 403.9,406.7 404.7,406.0 405.6,405.3 406.4,404.7 407.3,404.1 408.1,403.6 409.0,403.1 409.8,402.7 410.6,402.3 411.5,402.1 412.3,401.9 413.2,401.7 414.0,401.7 414.9,401.7 415.7,401.8 416.5,401.8 417.4,401.9 418.2,402.1 419.1,402.2 419.9,402.4 420.8,402.6 421.6,402.9 422.4,403.1 423.3,403.4 424.1,403.7 425.0,404.1 425.8,404.4 426.7,404.8 427.5,405.1 428.3,405.5 429.2,405.9 430.0,406.2 430.9,406.6 431.7,407.0 432.5,407.3 433.4,407.6 434.2,407.9 435.1,408.3 435.9,408.6 436.8,408.9 437.6,409.2 438.4,409.5 439.3,409.8 440.1,410.1 441.0,410.4 441.8,410.7 442.7,411.0 443.5,411.3 444.3,411.6 445.2,411.9 446.0,412.2 446.9,412.5 447.7,412.8 448.6,413.0 449.4,413.3 450.2,413.6 451.1,413.8 451.9,414.1 452.8,414.3 453.6,414.6 454.5,414.8 455.3,415.0 456.1,415.3 457.0,415.5 457.8,415.7 458.7,415.9 459.5,416.2 460.4,416.4 461.2,416.6 462.0,416.8 462.9,417.0 463.7,417.2 464.6,417.4 465.4,417.5 466.3,417.7 467.1,417.9 467.9,418.1 468.8,418.2 469.6,418.4 470.5,418.6 471.3,418.7 472.2,418.9 473.0,419.0 473.8,419.2 474.7,419.3 475.5,419.4 476.4,419.6 477.2,419.7 478.1,419.8 478.9,420.0 479.7,420.1 480.6,420.2 481.4,420.3 482.3,420.4 483.1,420.5 484.0,420.6 484.8,420.7 485.6,420.8 486.5,420.9 487.3,421.0 488.2,421.1 489.0,421.2 489.9,421.3 490.7,421.4 491.5,421.4 492.4,421.5 493.2,421.6 494.1,421.7 494.9,421.7 495.7,421.8 496.6,421.9 497.4,421.9 498.3,422.0 499.1,422.0 500.0,422.1 500.8,422.1 501.6,422.2 502.5,422.2 503.3,422.3 504.2,422.3 505.0,422.4 505.9,422.4 506.7,422.4 507.5,422.5 508.4,422.5 509.2,422.5 510.1,422.6 510.9,422.6 511.8,422.6 512.6,422.7 513.4,422.7 514.3,422.7 515.1,422.7 516.0,422.8 516.8,422.8 517.7,422.8 518.5,422.8 519.3,422.8 520.2,422.9 521.0,422.9 521.9,422.9 522.7,422.9 523.6,422.9 524.4,423.0 526.1,423.0 527.8,423.0 529.5,423.0 531.1,423.1 532.8,423.1 534.5,423.1 536.2,423.1 537.9,423.1 539.6,423.1 541.3,423.2 542.9,423.2 544.6,423.2 546.3,423.2 548.0,423.2 549.7,423.2 551.4,423.2 553.1,423.2 554.7,423.2 556.4,423.2 558.1,423.2 559.8,423.2 561.5,423.3 563.2,423.3 564.8,423.3 566.5,423.3 568.2,423.3 569.9,423.3 571.6,423.3 573.3,423.3 575.0,423.3 576.6,423.3 578.3,423.3 580.0,423.3 581.7,423.3 583.4,423.3 585.1,423.3 586.8,423.3 588.4,423.3 590.1,423.3 591.8,423.3 593.5,423.3 595.2,423.3 596.9,423.3 598.6,423.3 600.2,423.3 601.9,423.3 603.6,423.3 605.3,423.3 607.0,423.3 608.7,423.3 610.4,423.3 612.0,423.3 613.7,423.3 615.4,423.3 617.1,423.3 618.8,423.3 620.5,423.3 622.1,423.3 623.8,423.3 625.5,423.3 627.2,423.3 628.9,423.3 630.6,423.3 632.3,423.3 633.9,423.3 635.6,423.3 637.3,423.3 639.0,423.3 640.7,423.3 642.4,423.3 644.1,423.3 645.7,423.3 647.4,423.3 649.1,423.3 650.8,423.3" fill="none" stroke="#008080" stroke-width="1.5" stroke-linejoin="round"/>
<path d="M510.5 256.2H532.1" stroke="#000000" stroke-width="1.4"/>
<text x="535.7" y="259.6" font-size="12.1" xml:space="preserve">P1  100nM</text>
<path d="M510.5 271.3H532.1" stroke="#ff0000" stroke-width="1.4"/>
<text x="535.7" y="274.7" font-size="12.1" xml:space="preserve">P1+NHGQDs+HIV1</text>
<path d="M510.5 286.4H532.1" stroke="#0000ff" stroke-width="1.4"/>
<text x="535.7" y="289.8" font-size="12.1" xml:space="preserve">P1+NHGQDs HIV1</text>
<path d="M510.5 301.5H532.1" stroke="#008080" stroke-width="1.4"/>
<text x="535.7" y="304.9" font-size="12.1" xml:space="preserve">P1+NHGQDs</text>
<rect x="58.5" y="474.5" width="249.3" height="185.5" fill="none" stroke="#000" stroke-width="1.3"/>
<path d="M54.5 660H58.5M56 646.75H58.5M54.5 633.5H58.5M56 620.25H58.5M54.5 607H58.5M56 593.75H58.5M54.5 580.5H58.5M56 567.25H58.5M54.5 554H58.5M56 540.75H58.5M54.5 527.5H58.5M56 514.25H58.5M54.5 501H58.5M56 487.75H58.5M54.5 474.5H58.5M58.5 660V664M100.05 660V662.5M141.6 660V664M183.15 660V662.5M224.7 660V664M266.25 660V662.5M307.8 660V664" stroke="#000" stroke-width="1.3" fill="none"/>
<text x="51.3" y="663.8" text-anchor="end" font-size="11.5">0</text>
<text x="51.3" y="637.3" text-anchor="end" font-size="11.5">100</text>
<text x="51.3" y="610.8" text-anchor="end" font-size="11.5">200</text>
<text x="51.3" y="584.3" text-anchor="end" font-size="11.5">300</text>
<text x="51.3" y="557.8" text-anchor="end" font-size="11.5">400</text>
<text x="51.3" y="531.3" text-anchor="end" font-size="11.5">500</text>
<text x="51.3" y="504.8" text-anchor="end" font-size="11.5">600</text>
<text x="51.3" y="478.3" text-anchor="end" font-size="11.5">700</text>
<text x="58.5" y="675.8" text-anchor="middle" font-size="11.5">500</text>
<text x="141.6" y="675.8" text-anchor="middle" font-size="11.5">600</text>
<text x="224.7" y="675.8" text-anchor="middle" font-size="11.5">700</text>
<text x="307.8" y="675.8" text-anchor="middle" font-size="11.5">800</text>
<text x="183.5" y="693.8" text-anchor="middle" font-size="12.2" textLength="99" lengthAdjust="spacingAndGlyphs">Wavelength (nm)</text>
<text transform="translate(14.8,576.7) rotate(-90)" text-anchor="middle" font-size="12.2" textLength="104" lengthAdjust="spacingAndGlyphs">FL Intensity (a.u.)</text>
<text transform="translate(-0.5,488) scale(1.15,1)" font-size="26">e</text>
<polyline points="58.5,616.6 59.3,610.7 60.2,604.4 61.0,597.6 61.8,590.5 62.7,583.1 63.5,575.4 64.3,567.5 65.1,559.5 66.0,551.6 66.8,543.8 67.6,536.2 68.5,528.9 69.3,522.1 70.1,515.9 71.0,510.3 71.8,505.6 72.6,501.7 73.5,498.7 74.3,496.7 75.1,495.8 76.0,495.8 76.8,496.3 77.6,497.3 78.4,498.8 79.3,500.7 80.1,503.0 80.9,505.7 81.8,508.8 82.6,512.1 83.4,515.7 84.3,519.5 85.1,523.5 85.9,527.5 86.8,531.7 87.6,535.9 88.4,540.2 89.2,544.4 90.1,548.5 90.9,552.6 91.7,556.5 92.6,560.3 93.4,563.9 94.2,567.4 95.1,570.8 95.9,574.0 96.7,577.1 97.6,580.1 98.4,582.9 99.2,585.7 100.0,588.4 100.9,591.0 101.7,593.6 102.5,596.0 103.4,598.4 104.2,600.7 105.0,602.8 105.9,604.9 106.7,606.9 107.5,608.8 108.4,610.7 109.2,612.4 110.0,614.1 110.9,615.7 111.7,617.3 112.5,618.8 113.3,620.2 114.2,621.6 115.0,622.9 115.8,624.3 116.7,625.5 117.5,626.7 118.3,627.9 119.2,629.1 120.0,630.2 120.8,631.3 121.7,632.3 122.5,633.3 123.3,634.3 124.1,635.3 125.0,636.2 125.8,637.1 126.6,638.0 127.5,638.8 128.3,639.6 129.1,640.4 130.0,641.2 130.8,641.9 131.6,642.6 132.5,643.3 133.3,644.0 134.1,644.6 135.0,645.2 135.8,645.8 136.6,646.4 137.4,646.9 138.3,647.5 139.1,648.0 139.9,648.5 140.8,648.9 141.6,649.4 142.4,649.8 143.3,650.2 144.1,650.6 144.9,651.0 145.8,651.4 146.6,651.8 147.4,652.2 148.2,652.5 149.1,652.9 149.9,653.2 150.7,653.5 151.6,653.9 152.4,654.2 153.2,654.5 154.1,654.8 154.9,655.0 155.7,655.3 156.6,655.6 157.4,655.8 158.2,656.0 159.1,656.2 159.9,656.4 160.7,656.6 161.5,656.8 162.4,657.0 163.2,657.1 164.0,657.3 164.9,657.4 165.7,657.5 166.5,657.7 167.4,657.8 168.2,657.9 169.0,658.0 169.9,658.1 170.7,658.2 171.5,658.3 172.3,658.3 173.2,658.4 174.0,658.5 174.8,658.6 175.7,658.6 176.5,658.7 177.3,658.8 178.2,658.8 179.0,658.9 179.8,658.9 180.7,659.0 181.5,659.0 182.3,659.1 183.2,659.1 184.8,659.2 186.5,659.3 188.1,659.3 189.8,659.4 191.5,659.5 193.1,659.5 194.8,659.6 196.4,659.6 198.1,659.6 199.8,659.7 201.4,659.7 203.1,659.7 204.8,659.7 206.4,659.8 208.1,659.8 209.7,659.8 211.4,659.8 213.1,659.8 214.7,659.9 216.4,659.9 218.1,659.9 219.7,659.9 221.4,659.9 223.0,659.9 224.7,659.9 226.4,659.9 228.0,659.9 229.7,659.9 231.3,659.9 233.0,659.9 234.7,660.0 236.3,660.0 238.0,660.0 239.7,660.0 241.3,660.0 243.0,660.0 244.6,660.0 246.3,660.0 248.0,660.0 249.6,660.0 251.3,660.0 253.0,660.0 254.6,660.0 256.3,660.0 257.9,660.0 259.6,660.0 261.3,660.0 262.9,660.0 264.6,660.0 266.2,660.0 267.9,660.0 269.6,660.0 271.2,660.0 272.9,660.0 274.6,660.0 276.2,660.0 277.9,660.0 279.5,660.0 281.2,660.0 282.9,660.0 284.5,660.0 286.2,660.0 287.9,660.0 289.5,660.0 291.2,660.0 292.8,660.0 294.5,660.0 296.2,660.0 297.8,660.0 299.5,660.0 301.2,660.0 302.8,660.0 304.5,660.0 306.1,660.0 307.8,660.0" fill="none" stroke="#000000" stroke-width="1.5" stroke-linejoin="round"/>
<polyline points="58.5,648.0 59.3,647.1 60.2,646.3 61.0,645.4 61.8,644.6 62.7,643.7 63.5,642.9 64.3,642.1 65.1,641.3 66.0,640.6 66.8,639.9 67.6,639.3 68.5,638.7 69.3,638.2 70.1,637.7 71.0,637.4 71.8,637.1 72.6,636.9 73.5,636.7 74.3,636.7 75.1,636.7 76.0,636.7 76.8,636.8 77.6,636.9 78.4,637.1 79.3,637.3 80.1,637.5 80.9,637.7 81.8,637.9 82.6,638.2 83.4,638.6 84.3,638.9 85.1,639.2 85.9,639.6 86.8,640.0 87.6,640.4 88.4,640.8 89.2,641.2 90.1,641.6 90.9,642.0 91.7,642.4 92.6,642.7 93.4,643.1 94.2,643.4 95.1,643.8 95.9,644.1 96.7,644.4 97.6,644.7 98.4,645.1 99.2,645.4 100.0,645.7 100.9,646.0 101.7,646.4 102.5,646.7 103.4,647.0 104.2,647.4 105.0,647.7 105.9,648.0 106.7,648.3 107.5,648.6 108.4,648.9 109.2,649.2 110.0,649.5 110.9,649.8 111.7,650.0 112.5,650.3 113.3,650.6 114.2,650.8 115.0,651.1 115.8,651.3 116.7,651.6 117.5,651.8 118.3,652.1 119.2,652.3 120.0,652.5 120.8,652.7 121.7,653.0 122.5,653.2 123.3,653.4 124.1,653.6 125.0,653.8 125.8,654.0 126.6,654.2 127.5,654.3 128.3,654.5 129.1,654.7 130.0,654.9 130.8,655.0 131.6,655.2 132.5,655.4 133.3,655.5 134.1,655.7 135.0,655.8 135.8,656.0 136.6,656.1 137.4,656.3 138.3,656.4 139.1,656.5 139.9,656.6 140.8,656.8 141.6,656.9 142.4,657.0 143.3,657.1 144.1,657.2 144.9,657.3 145.8,657.5 146.6,657.6 147.4,657.6 148.2,657.7 149.1,657.8 149.9,657.9 150.7,658.0 151.6,658.1 152.4,658.2 153.2,658.2 154.1,658.3 154.9,658.4 155.7,658.4 156.6,658.5 157.4,658.6 158.2,658.6 159.1,658.7 159.9,658.7 160.7,658.8 161.5,658.8 162.4,658.9 163.2,658.9 164.0,659.0 164.9,659.0 165.7,659.1 166.5,659.1 167.4,659.1 168.2,659.2 169.0,659.2 169.9,659.2 170.7,659.3 171.5,659.3 172.3,659.3 173.2,659.4 174.0,659.4 174.8,659.4 175.7,659.4 176.5,659.5 177.3,659.5 178.2,659.5 179.0,659.5 179.8,659.6 180.7,659.6 181.5,659.6 182.3,659.6 183.2,659.6 184.8,659.7 186.5,659.7 188.1,659.7 189.8,659.7 191.5,659.8 193.1,659.8 194.8,659.8 196.4,659.8 198.1,659.8 199.8,659.8 201.4,659.9 203.1,659.9 204.8,659.9 206.4,659.9 208.1,659.9 209.7,659.9 211.4,659.9 213.1,659.9 214.7,659.9 216.4,659.9 218.1,659.9 219.7,659.9 221.4,660.0 223.0,660.0 224.7,660.0 226.4,660.0 228.0,660.0 229.7,660.0 231.3,660.0 233.0,660.0 234.7,660.0 236.3,660.0 238.0,660.0 239.7,660.0 241.3,660.0 243.0,660.0 244.6,660.0 246.3,660.0 248.0,660.0 249.6,660.0 251.3,660.0 253.0,660.0 254.6,660.0 256.3,660.0 257.9,660.0 259.6,660.0 261.3,660.0 262.9,660.0 264.6,660.0 266.2,660.0 267.9,660.0 269.6,660.0 271.2,660.0 272.9,660.0 274.6,660.0 276.2,660.0 277.9,660.0 279.5,660.0 281.2,660.0 282.9,660.0 284.5,660.0 286.2,660.0 287.9,660.0 289.5,660.0 291.2,660.0 292.8,660.0 294.5,660.0 296.2,660.0 297.8,660.0 299.5,660.0 301.2,660.0 302.8,660.0 304.5,660.0 306.1,660.0 307.8,660.0" fill="none" stroke="#ff0000" stroke-width="1.5" stroke-linejoin="round"/>
<polyline points="58.5,650.7 59.3,649.6 60.2,648.4 61.0,647.2 61.8,646.0 62.7,644.7 63.5,643.4 64.3,642.1 65.1,640.8 66.0,639.5 66.8,638.2 67.6,637.0 68.5,635.9 69.3,634.9 70.1,633.9 71.0,633.1 71.8,632.4 72.6,631.8 73.5,631.4 74.3,631.2 75.1,631.1 76.0,631.2 76.8,631.3 77.6,631.5 78.4,631.7 79.3,632.0 80.1,632.4 80.9,632.9 81.8,633.4 82.6,633.9 83.4,634.5 84.3,635.2 85.1,635.8 85.9,636.5 86.8,637.2 87.6,637.9 88.4,638.6 89.2,639.3 90.1,639.9 90.9,640.6 91.7,641.3 92.6,641.9 93.4,642.5 94.2,643.1 95.1,643.6 95.9,644.2 96.7,644.7 97.6,645.2 98.4,645.7 99.2,646.2 100.0,646.6 100.9,647.1 101.7,647.5 102.5,647.9 103.4,648.4 104.2,648.8 105.0,649.1 105.9,649.5 106.7,649.9 107.5,650.2 108.4,650.6 109.2,650.9 110.0,651.2 110.9,651.5 111.7,651.8 112.5,652.0 113.3,652.3 114.2,652.6 115.0,652.8 115.8,653.0 116.7,653.3 117.5,653.5 118.3,653.7 119.2,654.0 120.0,654.2 120.8,654.4 121.7,654.6 122.5,654.8 123.3,654.9 124.1,655.1 125.0,655.3 125.8,655.5 126.6,655.6 127.5,655.8 128.3,656.0 129.1,656.1 130.0,656.3 130.8,656.4 131.6,656.5 132.5,656.7 133.3,656.8 134.1,656.9 135.0,657.0 135.8,657.2 136.6,657.3 137.4,657.4 138.3,657.5 139.1,657.6 139.9,657.7 140.8,657.8 141.6,657.9 142.4,657.9 143.3,658.0 144.1,658.1 144.9,658.2 145.8,658.3 146.6,658.3 147.4,658.4 148.2,658.5 149.1,658.6 149.9,658.6 150.7,658.7 151.6,658.7 152.4,658.8 153.2,658.9 154.1,658.9 154.9,659.0 155.7,659.0 156.6,659.1 157.4,659.1 158.2,659.2 159.1,659.2 159.9,659.3 160.7,659.3 161.5,659.3 162.4,659.4 163.2,659.4 164.0,659.4 164.9,659.4 165.7,659.5 166.5,659.5 167.4,659.5 168.2,659.5 169.0,659.6 169.9,659.6 170.7,659.6 171.5,659.6 172.3,659.6 173.2,659.7 174.0,659.7 174.8,659.7 175.7,659.7 176.5,659.7 177.3,659.7 178.2,659.7 179.0,659.8 179.8,659.8 180.7,659.8 181.5,659.8 182.3,659.8 183.2,659.8 184.8,659.8 186.5,659.8 188.1,659.9 189.8,659.9 191.5,659.9 193.1,659.9 194.8,659.9 196.4,659.9 198.1,659.9 199.8,659.9 201.4,659.9 203.1,659.9 204.8,659.9 206.4,659.9 208.1,660.0 209.7,660.0 211.4,660.0 213.1,660.0 214.7,660.0 216.4,660.0 218.1,660.0 219.7,660.0 221.4,660.0 223.0,660.0 224.7,660.0 226.4,660.0 228.0,660.0 229.7,660.0 231.3,660.0 233.0,660.0 234.7,660.0 236.3,660.0 238.0,660.0 239.7,660.0 241.3,660.0 243.0,660.0 244.6,660.0 246.3,660.0 248.0,660.0 249.6,660.0 251.3,660.0 253.0,660.0 254.6,660.0 256.3,660.0 257.9,660.0 259.6,660.0 261.3,660.0 262.9,660.0 264.6,660.0 266.2,660.0 267.9,660.0 269.6,660.0 271.2,660.0 272.9,660.0 274.6,660.0 276.2,660.0 277.9,660.0 279.5,660.0 281.2,660.0 282.9,660.0 284.5,660.0 286.2,660.0 287.9,660.0 289.5,660.0 291.2,660.0 292.8,660.0 294.5,660.0 296.2,660.0 297.8,660.0 299.5,660.0 301.2,660.0 302.8,660.0 304.5,660.0 306.1,660.0 307.8,660.0" fill="none" stroke="#0000ff" stroke-width="1.5" stroke-linejoin="round"/>
<polyline points="58.5,651.9 59.3,650.9 60.2,649.9 61.0,648.9 61.8,647.8 62.7,646.7 63.5,645.5 64.3,644.4 65.1,643.2 66.0,642.1 66.8,641.0 67.6,640.0 68.5,639.0 69.3,638.1 70.1,637.3 71.0,636.5 71.8,635.9 72.6,635.5 73.5,635.1 74.3,634.9 75.1,634.8 76.0,634.9 76.8,635.0 77.6,635.1 78.4,635.3 79.3,635.6 80.1,636.0 80.9,636.4 81.8,636.8 82.6,637.3 83.4,637.8 84.3,638.3 85.1,638.9 85.9,639.5 86.8,640.1 87.6,640.7 88.4,641.3 89.2,641.9 90.1,642.5 90.9,643.1 91.7,643.7 92.6,644.2 93.4,644.7 94.2,645.3 95.1,645.7 95.9,646.2 96.7,646.7 97.6,647.1 98.4,647.5 99.2,647.9 100.0,648.3 100.9,648.7 101.7,649.1 102.5,649.5 103.4,649.9 104.2,650.2 105.0,650.5 105.9,650.9 106.7,651.2 107.5,651.5 108.4,651.8 109.2,652.0 110.0,652.3 110.9,652.6 111.7,652.8 112.5,653.1 113.3,653.3 114.2,653.5 115.0,653.7 115.8,653.9 116.7,654.1 117.5,654.3 118.3,654.5 119.2,654.7 120.0,654.9 120.8,655.1 121.7,655.3 122.5,655.4 123.3,655.6 124.1,655.8 125.0,655.9 125.8,656.1 126.6,656.2 127.5,656.3 128.3,656.5 129.1,656.6 130.0,656.7 130.8,656.9 131.6,657.0 132.5,657.1 133.3,657.2 134.1,657.3 135.0,657.4 135.8,657.5 136.6,657.6 137.4,657.7 138.3,657.8 139.1,657.9 139.9,658.0 140.8,658.1 141.6,658.1 142.4,658.2 143.3,658.3 144.1,658.4 144.9,658.4 145.8,658.5 146.6,658.6 147.4,658.6 148.2,658.7 149.1,658.7 149.9,658.8 150.7,658.9 151.6,658.9 152.4,659.0 153.2,659.0 154.1,659.1 154.9,659.1 155.7,659.2 156.6,659.2 157.4,659.2 158.2,659.3 159.1,659.3 159.9,659.3 160.7,659.4 161.5,659.4 162.4,659.4 163.2,659.5 164.0,659.5 164.9,659.5 165.7,659.5 166.5,659.6 167.4,659.6 168.2,659.6 169.0,659.6 169.9,659.6 170.7,659.7 171.5,659.7 172.3,659.7 173.2,659.7 174.0,659.7 174.8,659.7 175.7,659.7 176.5,659.8 177.3,659.8 178.2,659.8 179.0,659.8 179.8,659.8 180.7,659.8 181.5,659.8 182.3,659.8 183.2,659.8 184.8,659.8 186.5,659.9 188.1,659.9 189.8,659.9 191.5,659.9 193.1,659.9 194.8,659.9 196.4,659.9 198.1,659.9 199.8,659.9 201.4,659.9 203.1,659.9 204.8,660.0 206.4,660.0 208.1,660.0 209.7,660.0 211.4,660.0 213.1,660.0 214.7,660.0 216.4,660.0 218.1,660.0 219.7,660.0 221.4,660.0 223.0,660.0 224.7,660.0 226.4,660.0 228.0,660.0 229.7,660.0 231.3,660.0 233.0,660.0 234.7,660.0 236.3,660.0 238.0,660.0 239.7,660.0 241.3,660.0 243.0,660.0 244.6,660.0 246.3,660.0 248.0,660.0 249.6,660.0 251.3,660.0 253.0,660.0 254.6,660.0 256.3,660.0 257.9,660.0 259.6,660.0 261.3,660.0 262.9,660.0 264.6,660.0 266.2,660.0 267.9,660.0 269.6,660.0 271.2,660.0 272.9,660.0 274.6,660.0 276.2,660.0 277.9,660.0 279.5,660.0 281.2,660.0 282.9,660.0 284.5,660.0 286.2,660.0 287.9,660.0 289.5,660.0 291.2,660.0 292.8,660.0 294.5,660.0 296.2,660.0 297.8,660.0 299.5,660.0 301.2,660.0 302.8,660.0 304.5,660.0 306.1,660.0 307.8,660.0" fill="none" stroke="#008080" stroke-width="1.5" stroke-linejoin="round"/>
<polyline points="58.5,652.4 59.3,651.6 60.2,650.7 61.0,649.7 61.8,648.8 62.7,647.8 63.5,646.8 64.3,645.7 65.1,644.7 66.0,643.7 66.8,642.8 67.6,641.9 68.5,641.0 69.3,640.2 70.1,639.5 71.0,638.8 71.8,638.3 72.6,637.9 73.5,637.6 74.3,637.4 75.1,637.3 76.0,637.4 76.8,637.5 77.6,637.6 78.4,637.8 79.3,638.0 80.1,638.3 80.9,638.7 81.8,639.1 82.6,639.5 83.4,640.0 84.3,640.4 85.1,640.9 85.9,641.5 86.8,642.0 87.6,642.5 88.4,643.1 89.2,643.6 90.1,644.1 90.9,644.6 91.7,645.1 92.6,645.6 93.4,646.1 94.2,646.6 95.1,647.0 95.9,647.4 96.7,647.8 97.6,648.2 98.4,648.6 99.2,648.9 100.0,649.3 100.9,649.7 101.7,650.0 102.5,650.3 103.4,650.7 104.2,651.0 105.0,651.3 105.9,651.6 106.7,651.9 107.5,652.1 108.4,652.4 109.2,652.7 110.0,652.9 110.9,653.1 111.7,653.4 112.5,653.6 113.3,653.8 114.2,654.0 115.0,654.2 115.8,654.4 116.7,654.6 117.5,654.8 118.3,654.9 119.2,655.1 120.0,655.3 120.8,655.4 121.7,655.6 122.5,655.8 123.3,655.9 124.1,656.1 125.0,656.2 125.8,656.3 126.6,656.5 127.5,656.6 128.3,656.7 129.1,656.8 130.0,657.0 130.8,657.1 131.6,657.2 132.5,657.3 133.3,657.4 134.1,657.5 135.0,657.6 135.8,657.7 136.6,657.8 137.4,657.9 138.3,657.9 139.1,658.0 139.9,658.1 140.8,658.2 141.6,658.3 142.4,658.3 143.3,658.4 144.1,658.5 144.9,658.5 145.8,658.6 146.6,658.6 147.4,658.7 148.2,658.8 149.1,658.8 149.9,658.9 150.7,658.9 151.6,659.0 152.4,659.0 153.2,659.1 154.1,659.1 154.9,659.2 155.7,659.2 156.6,659.2 157.4,659.3 158.2,659.3 159.1,659.4 159.9,659.4 160.7,659.4 161.5,659.4 162.4,659.5 163.2,659.5 164.0,659.5 164.9,659.5 165.7,659.6 166.5,659.6 167.4,659.6 168.2,659.6 169.0,659.6 169.9,659.7 170.7,659.7 171.5,659.7 172.3,659.7 173.2,659.7 174.0,659.7 174.8,659.7 175.7,659.8 176.5,659.8 177.3,659.8 178.2,659.8 179.0,659.8 179.8,659.8 180.7,659.8 181.5,659.8 182.3,659.8 183.2,659.8 184.8,659.9 186.5,659.9 188.1,659.9 189.8,659.9 191.5,659.9 193.1,659.9 194.8,659.9 196.4,659.9 198.1,659.9 199.8,659.9 201.4,659.9 203.1,659.9 204.8,660.0 206.4,660.0 208.1,660.0 209.7,660.0 211.4,660.0 213.1,660.0 214.7,660.0 216.4,660.0 218.1,660.0 219.7,660.0 221.4,660.0 223.0,660.0 224.7,660.0 226.4,660.0 228.0,660.0 229.7,660.0 231.3,660.0 233.0,660.0 234.7,660.0 236.3,660.0 238.0,660.0 239.7,660.0 241.3,660.0 243.0,660.0 244.6,660.0 246.3,660.0 248.0,660.0 249.6,660.0 251.3,660.0 253.0,660.0 254.6,660.0 256.3,660.0 257.9,660.0 259.6,660.0 261.3,660.0 262.9,660.0 264.6,660.0 266.2,660.0 267.9,660.0 269.6,660.0 271.2,660.0 272.9,660.0 274.6,660.0 276.2,660.0 277.9,660.0 279.5,660.0 281.2,660.0 282.9,660.0 284.5,660.0 286.2,660.0 287.9,660.0 289.5,660.0 291.2,660.0 292.8,660.0 294.5,660.0 296.2,660.0 297.8,660.0 299.5,660.0 301.2,660.0 302.8,660.0 304.5,660.0 306.1,660.0 307.8,660.0" fill="none" stroke="#ff00ff" stroke-width="1.5" stroke-linejoin="round"/>
<polyline points="58.5,641.9 59.3,640.1 60.2,638.1 61.0,636.0 61.8,633.9 62.7,631.8 63.5,629.6 64.3,627.5 65.1,625.3 66.0,623.2 66.8,621.2 67.6,619.3 68.5,617.5 69.3,615.8 70.1,614.3 71.0,613.0 71.8,611.9 72.6,611.1 73.5,610.4 74.3,610.0 75.1,609.9 76.0,610.0 76.8,610.2 77.6,610.6 78.4,611.1 79.3,611.7 80.1,612.5 80.9,613.3 81.8,614.3 82.6,615.3 83.4,616.5 84.3,617.6 85.1,618.9 85.9,620.1 86.8,621.4 87.6,622.7 88.4,624.0 89.2,625.3 90.1,626.5 90.9,627.7 91.7,628.9 92.6,630.1 93.4,631.1 94.2,632.2 95.1,633.2 95.9,634.2 96.7,635.1 97.6,636.0 98.4,636.9 99.2,637.7 100.0,638.5 100.9,639.3 101.7,640.1 102.5,640.8 103.4,641.5 104.2,642.2 105.0,642.8 105.9,643.5 106.7,644.1 107.5,644.6 108.4,645.2 109.2,645.7 110.0,646.2 110.9,646.7 111.7,647.2 112.5,647.6 113.3,648.0 114.2,648.5 115.0,648.9 115.8,649.3 116.7,649.6 117.5,650.0 118.3,650.4 119.2,650.7 120.0,651.0 120.8,651.4 121.7,651.7 122.5,652.0 123.3,652.3 124.1,652.6 125.0,652.9 125.8,653.1 126.6,653.4 127.5,653.6 128.3,653.9 129.1,654.1 130.0,654.4 130.8,654.6 131.6,654.8 132.5,655.0 133.3,655.2 134.1,655.4 135.0,655.6 135.8,655.7 136.6,655.9 137.4,656.1 138.3,656.2 139.1,656.4 139.9,656.5 140.8,656.7 141.6,656.8 142.4,656.9 143.3,657.1 144.1,657.2 144.9,657.3 145.8,657.4 146.6,657.5 147.4,657.7 148.2,657.8 149.1,657.9 149.9,658.0 150.7,658.1 151.6,658.2 152.4,658.3 153.2,658.4 154.1,658.4 154.9,658.5 155.7,658.6 156.6,658.7 157.4,658.7 158.2,658.8 159.1,658.9 159.9,658.9 160.7,659.0 161.5,659.0 162.4,659.1 163.2,659.1 164.0,659.2 164.9,659.2 165.7,659.3 166.5,659.3 167.4,659.3 168.2,659.4 169.0,659.4 169.9,659.4 170.7,659.5 171.5,659.5 172.3,659.5 173.2,659.5 174.0,659.6 174.8,659.6 175.7,659.6 176.5,659.6 177.3,659.6 178.2,659.7 179.0,659.7 179.8,659.7 180.7,659.7 181.5,659.7 182.3,659.7 183.2,659.7 184.8,659.8 186.5,659.8 188.1,659.8 189.8,659.8 191.5,659.8 193.1,659.9 194.8,659.9 196.4,659.9 198.1,659.9 199.8,659.9 201.4,659.9 203.1,659.9 204.8,659.9 206.4,659.9 208.1,659.9 209.7,659.9 211.4,659.9 213.1,660.0 214.7,660.0 216.4,660.0 218.1,660.0 219.7,660.0 221.4,660.0 223.0,660.0 224.7,660.0 226.4,660.0 228.0,660.0 229.7,660.0 231.3,660.0 233.0,660.0 234.7,660.0 236.3,660.0 238.0,660.0 239.7,660.0 241.3,660.0 243.0,660.0 244.6,660.0 246.3,660.0 248.0,660.0 249.6,660.0 251.3,660.0 253.0,660.0 254.6,660.0 256.3,660.0 257.9,660.0 259.6,660.0 261.3,660.0 262.9,660.0 264.6,660.0 266.2,660.0 267.9,660.0 269.6,660.0 271.2,660.0 272.9,660.0 274.6,660.0 276.2,660.0 277.9,660.0 279.5,660.0 281.2,660.0 282.9,660.0 284.5,660.0 286.2,660.0 287.9,660.0 289.5,660.0 291.2,660.0 292.8,660.0 294.5,660.0 296.2,660.0 297.8,660.0 299.5,660.0 301.2,660.0 302.8,660.0 304.5,660.0 306.1,660.0 307.8,660.0" fill="none" stroke="#808000" stroke-width="1.5" stroke-linejoin="round"/>
<path d="M135.7 486.3H156.4" stroke="#000000" stroke-width="1.4"/>
<text x="159.4" y="489.7" font-size="12.2" xml:space="preserve">P1  100nM</text>
<path d="M135.7 501.58H156.4" stroke="#ff0000" stroke-width="1.4"/>
<text x="159.4" y="504.98" font-size="12.2" xml:space="preserve">P1+NHGQDs 1mg/mL</text>
<path d="M135.7 516.86H156.4" stroke="#0000ff" stroke-width="1.4"/>
<text x="159.4" y="520.26" font-size="12.2" xml:space="preserve">P1+NHGQDs HIV1 0min</text>
<path d="M135.7 532.14H156.4" stroke="#008080" stroke-width="1.4"/>
<text x="159.4" y="535.54" font-size="12.2" xml:space="preserve">P1+NHGQDs HIV1 5min</text>
<path d="M135.7 547.42H156.4" stroke="#ff00ff" stroke-width="1.4"/>
<text x="159.4" y="550.82" font-size="12.2" xml:space="preserve">P1+NHGQDs HIV1 20min</text>
<path d="M135.7 562.7H156.4" stroke="#808000" stroke-width="1.4"/>
<text x="159.4" y="566.1" font-size="12.2" xml:space="preserve">P1+NHGQDs HIV1 30min</text>
<rect x="400.5" y="474" width="252.1" height="185.2" fill="none" stroke="#000" stroke-width="1.3"/>
<path d="M396.5 659.2H400.5M398 636.05H400.5M396.5 612.9H400.5M398 589.75H400.5M396.5 566.6H400.5M398 543.45H400.5M396.5 520.3H400.5M398 497.15H400.5M396.5 474H400.5M400.5 659.2V663.2M442.52 659.2V661.7M484.53 659.2V663.2M526.55 659.2V661.7M568.57 659.2V663.2M610.58 659.2V661.7M652.6 659.2V663.2" stroke="#000" stroke-width="1.3" fill="none"/>
<text x="393" y="663.4" text-anchor="end" font-size="12.6">0</text>
<text x="393" y="617.1" text-anchor="end" font-size="12.6">200</text>
<text x="393" y="570.8" text-anchor="end" font-size="12.6">400</text>
<text x="393" y="524.5" text-anchor="end" font-size="12.6">600</text>
<text x="393" y="478.2" text-anchor="end" font-size="12.6">800</text>
<text x="400.5" y="676.2" text-anchor="middle" font-size="12.6">500</text>
<text x="484.53" y="676.2" text-anchor="middle" font-size="12.6">600</text>
<text x="568.57" y="676.2" text-anchor="middle" font-size="12.6">700</text>
<text x="652.6" y="676.2" text-anchor="middle" font-size="12.6">800</text>
<text x="531.9" y="694" text-anchor="middle" font-size="13.4" textLength="107.5" lengthAdjust="spacingAndGlyphs">Wavelength (nm)</text>
<text transform="translate(364.5,566.3) rotate(-90)" text-anchor="middle" font-size="13.4" textLength="112" lengthAdjust="spacingAndGlyphs">FL Intensity (a.u.)</text>
<text transform="translate(337,488) scale(1.35,1)" font-size="26">f</text>
<polyline points="400.5,619.3 401.3,614.0 402.2,608.3 403.0,602.3 403.9,595.9 404.7,589.3 405.5,582.5 406.4,575.6 407.2,568.7 408.1,561.7 408.9,555.0 409.7,548.4 410.6,542.3 411.4,536.5 412.3,531.3 413.1,526.7 413.9,522.8 414.8,519.7 415.6,517.5 416.5,516.1 417.3,515.7 418.1,515.9 419.0,516.5 419.8,517.6 420.7,519.0 421.5,520.8 422.3,523.0 423.2,525.5 424.0,528.2 424.9,531.2 425.7,534.4 426.6,537.8 427.4,541.3 428.2,544.9 429.1,548.6 429.9,552.3 430.8,556.0 431.6,559.6 432.4,563.2 433.3,566.7 434.1,570.1 435.0,573.4 435.8,576.5 436.6,579.5 437.5,582.4 438.3,585.2 439.2,587.8 440.0,590.4 440.8,592.9 441.7,595.3 442.5,597.6 443.4,599.8 444.2,602.0 445.0,604.1 445.9,606.2 446.7,608.1 447.6,610.0 448.4,611.8 449.2,613.5 450.1,615.1 450.9,616.7 451.8,618.2 452.6,619.7 453.4,621.1 454.3,622.4 455.1,623.7 456.0,624.9 456.8,626.1 457.6,627.3 458.5,628.4 459.3,629.5 460.2,630.6 461.0,631.6 461.8,632.6 462.7,633.5 463.5,634.5 464.4,635.4 465.2,636.3 466.0,637.1 466.9,637.9 467.7,638.7 468.6,639.5 469.4,640.3 470.2,641.0 471.1,641.7 471.9,642.4 472.8,643.0 473.6,643.6 474.4,644.3 475.3,644.8 476.1,645.4 477.0,646.0 477.8,646.5 478.7,647.0 479.5,647.5 480.3,648.0 481.2,648.4 482.0,648.9 482.9,649.3 483.7,649.7 484.5,650.1 485.4,650.5 486.2,650.8 487.1,651.2 487.9,651.5 488.7,651.8 489.6,652.2 490.4,652.5 491.3,652.8 492.1,653.1 492.9,653.4 493.8,653.7 494.6,653.9 495.5,654.2 496.3,654.5 497.1,654.7 498.0,655.0 498.8,655.2 499.7,655.4 500.5,655.6 501.3,655.8 502.2,656.0 503.0,656.2 503.9,656.3 504.7,656.5 505.5,656.6 506.4,656.7 507.2,656.9 508.1,657.0 508.9,657.1 509.7,657.2 510.6,657.3 511.4,657.4 512.3,657.5 513.1,657.6 513.9,657.6 514.8,657.7 515.6,657.8 516.5,657.9 517.3,657.9 518.1,658.0 519.0,658.0 519.8,658.1 520.7,658.1 521.5,658.2 522.3,658.2 523.2,658.3 524.0,658.3 524.9,658.4 525.7,658.4 526.5,658.4 528.2,658.5 529.9,658.6 531.6,658.6 533.3,658.7 535.0,658.7 536.6,658.8 538.3,658.8 540.0,658.9 541.7,658.9 543.4,658.9 545.0,658.9 546.7,659.0 548.4,659.0 550.1,659.0 551.8,659.0 553.4,659.0 555.1,659.1 556.8,659.1 558.5,659.1 560.2,659.1 561.8,659.1 563.5,659.1 565.2,659.1 566.9,659.1 568.6,659.1 570.2,659.1 571.9,659.1 573.6,659.1 575.3,659.2 577.0,659.2 578.7,659.2 580.3,659.2 582.0,659.2 583.7,659.2 585.4,659.2 587.1,659.2 588.7,659.2 590.4,659.2 592.1,659.2 593.8,659.2 595.5,659.2 597.1,659.2 598.8,659.2 600.5,659.2 602.2,659.2 603.9,659.2 605.5,659.2 607.2,659.2 608.9,659.2 610.6,659.2 612.3,659.2 613.9,659.2 615.6,659.2 617.3,659.2 619.0,659.2 620.7,659.2 622.3,659.2 624.0,659.2 625.7,659.2 627.4,659.2 629.1,659.2 630.8,659.2 632.4,659.2 634.1,659.2 635.8,659.2 637.5,659.2 639.2,659.2 640.8,659.2 642.5,659.2 644.2,659.2 645.9,659.2 647.6,659.2 649.2,659.2 650.9,659.2 652.6,659.2" fill="none" stroke="#000000" stroke-width="1.5" stroke-linejoin="round"/>
<polyline points="400.5,649.9 401.3,648.9 402.2,647.8 403.0,646.7 403.9,645.5 404.7,644.4 405.5,643.2 406.4,642.0 407.2,640.8 408.1,639.7 408.9,638.6 409.7,637.6 410.6,636.6 411.4,635.7 412.3,634.9 413.1,634.2 413.9,633.7 414.8,633.3 415.6,633.0 416.5,632.8 417.3,632.8 418.1,632.9 419.0,633.0 419.8,633.2 420.7,633.5 421.5,633.8 422.3,634.2 423.2,634.6 424.0,635.1 424.9,635.6 425.7,636.1 426.6,636.7 427.4,637.3 428.2,637.9 429.1,638.5 429.9,639.2 430.8,639.8 431.6,640.4 432.4,641.0 433.3,641.6 434.1,642.2 435.0,642.7 435.8,643.3 436.6,643.8 437.5,644.3 438.3,644.8 439.2,645.2 440.0,645.7 440.8,646.1 441.7,646.5 442.5,647.0 443.4,647.4 444.2,647.8 445.0,648.1 445.9,648.5 446.7,648.9 447.6,649.2 448.4,649.6 449.2,649.9 450.1,650.2 450.9,650.5 451.8,650.8 452.6,651.1 453.4,651.3 454.3,651.6 455.1,651.8 456.0,652.1 456.8,652.3 457.6,652.5 458.5,652.8 459.3,653.0 460.2,653.2 461.0,653.4 461.8,653.6 462.7,653.8 463.5,654.0 464.4,654.2 465.2,654.3 466.0,654.5 466.9,654.7 467.7,654.8 468.6,655.0 469.4,655.2 470.2,655.3 471.1,655.4 471.9,655.6 472.8,655.7 473.6,655.9 474.4,656.0 475.3,656.1 476.1,656.2 477.0,656.3 477.8,656.4 478.7,656.6 479.5,656.7 480.3,656.8 481.2,656.9 482.0,656.9 482.9,657.0 483.7,657.1 484.5,657.2 485.4,657.3 486.2,657.4 487.1,657.4 487.9,657.5 488.7,657.6 489.6,657.7 490.4,657.7 491.3,657.8 492.1,657.9 492.9,657.9 493.8,658.0 494.6,658.0 495.5,658.1 496.3,658.1 497.1,658.2 498.0,658.2 498.8,658.3 499.7,658.3 500.5,658.4 501.3,658.4 502.2,658.5 503.0,658.5 503.9,658.5 504.7,658.6 505.5,658.6 506.4,658.6 507.2,658.7 508.1,658.7 508.9,658.7 509.7,658.7 510.6,658.8 511.4,658.8 512.3,658.8 513.1,658.8 513.9,658.8 514.8,658.8 515.6,658.9 516.5,658.9 517.3,658.9 518.1,658.9 519.0,658.9 519.8,658.9 520.7,658.9 521.5,659.0 522.3,659.0 523.2,659.0 524.0,659.0 524.9,659.0 525.7,659.0 526.5,659.0 528.2,659.0 529.9,659.1 531.6,659.1 533.3,659.1 535.0,659.1 536.6,659.1 538.3,659.1 540.0,659.1 541.7,659.1 543.4,659.1 545.0,659.1 546.7,659.1 548.4,659.1 550.1,659.2 551.8,659.2 553.4,659.2 555.1,659.2 556.8,659.2 558.5,659.2 560.2,659.2 561.8,659.2 563.5,659.2 565.2,659.2 566.9,659.2 568.6,659.2 570.2,659.2 571.9,659.2 573.6,659.2 575.3,659.2 577.0,659.2 578.7,659.2 580.3,659.2 582.0,659.2 583.7,659.2 585.4,659.2 587.1,659.2 588.7,659.2 590.4,659.2 592.1,659.2 593.8,659.2 595.5,659.2 597.1,659.2 598.8,659.2 600.5,659.2 602.2,659.2 603.9,659.2 605.5,659.2 607.2,659.2 608.9,659.2 610.6,659.2 612.3,659.2 613.9,659.2 615.6,659.2 617.3,659.2 619.0,659.2 620.7,659.2 622.3,659.2 624.0,659.2 625.7,659.2 627.4,659.2 629.1,659.2 630.8,659.2 632.4,659.2 634.1,659.2 635.8,659.2 637.5,659.2 639.2,659.2 640.8,659.2 642.5,659.2 644.2,659.2 645.9,659.2 647.6,659.2 649.2,659.2 650.9,659.2 652.6,659.2" fill="none" stroke="#0000ff" stroke-width="1.5" stroke-linejoin="round"/>
<polyline points="400.5,650.2 401.3,649.2 402.2,648.2 403.0,647.1 403.9,646.0 404.7,644.9 405.5,643.8 406.4,642.6 407.2,641.5 408.1,640.4 408.9,639.3 409.7,638.3 410.6,637.4 411.4,636.5 412.3,635.8 413.1,635.1 413.9,634.6 414.8,634.2 415.6,633.9 416.5,633.8 417.3,633.7 418.1,633.8 419.0,633.9 419.8,634.1 420.7,634.4 421.5,634.7 422.3,635.1 423.2,635.5 424.0,635.9 424.9,636.4 425.7,636.9 426.6,637.5 427.4,638.1 428.2,638.7 429.1,639.3 429.9,639.9 430.8,640.5 431.6,641.1 432.4,641.6 433.3,642.2 434.1,642.8 435.0,643.3 435.8,643.8 436.6,644.3 437.5,644.8 438.3,645.3 439.2,645.7 440.0,646.1 440.8,646.6 441.7,647.0 442.5,647.4 443.4,647.8 444.2,648.2 445.0,648.5 445.9,648.9 446.7,649.2 447.6,649.6 448.4,649.9 449.2,650.2 450.1,650.5 450.9,650.8 451.8,651.1 452.6,651.3 453.4,651.6 454.3,651.9 455.1,652.1 456.0,652.3 456.8,652.6 457.6,652.8 458.5,653.0 459.3,653.2 460.2,653.4 461.0,653.6 461.8,653.8 462.7,654.0 463.5,654.2 464.4,654.3 465.2,654.5 466.0,654.7 466.9,654.8 467.7,655.0 468.6,655.2 469.4,655.3 470.2,655.4 471.1,655.6 471.9,655.7 472.8,655.8 473.6,656.0 474.4,656.1 475.3,656.2 476.1,656.3 477.0,656.4 477.8,656.5 478.7,656.6 479.5,656.7 480.3,656.8 481.2,656.9 482.0,657.0 482.9,657.1 483.7,657.2 484.5,657.3 485.4,657.4 486.2,657.4 487.1,657.5 487.9,657.6 488.7,657.6 489.6,657.7 490.4,657.8 491.3,657.8 492.1,657.9 492.9,658.0 493.8,658.0 494.6,658.1 495.5,658.1 496.3,658.2 497.1,658.2 498.0,658.3 498.8,658.3 499.7,658.4 500.5,658.4 501.3,658.5 502.2,658.5 503.0,658.5 503.9,658.6 504.7,658.6 505.5,658.6 506.4,658.6 507.2,658.7 508.1,658.7 508.9,658.7 509.7,658.7 510.6,658.8 511.4,658.8 512.3,658.8 513.1,658.8 513.9,658.8 514.8,658.9 515.6,658.9 516.5,658.9 517.3,658.9 518.1,658.9 519.0,658.9 519.8,658.9 520.7,659.0 521.5,659.0 522.3,659.0 523.2,659.0 524.0,659.0 524.9,659.0 525.7,659.0 526.5,659.0 528.2,659.0 529.9,659.1 531.6,659.1 533.3,659.1 535.0,659.1 536.6,659.1 538.3,659.1 540.0,659.1 541.7,659.1 543.4,659.1 545.0,659.1 546.7,659.1 548.4,659.1 550.1,659.2 551.8,659.2 553.4,659.2 555.1,659.2 556.8,659.2 558.5,659.2 560.2,659.2 561.8,659.2 563.5,659.2 565.2,659.2 566.9,659.2 568.6,659.2 570.2,659.2 571.9,659.2 573.6,659.2 575.3,659.2 577.0,659.2 578.7,659.2 580.3,659.2 582.0,659.2 583.7,659.2 585.4,659.2 587.1,659.2 588.7,659.2 590.4,659.2 592.1,659.2 593.8,659.2 595.5,659.2 597.1,659.2 598.8,659.2 600.5,659.2 602.2,659.2 603.9,659.2 605.5,659.2 607.2,659.2 608.9,659.2 610.6,659.2 612.3,659.2 613.9,659.2 615.6,659.2 617.3,659.2 619.0,659.2 620.7,659.2 622.3,659.2 624.0,659.2 625.7,659.2 627.4,659.2 629.1,659.2 630.8,659.2 632.4,659.2 634.1,659.2 635.8,659.2 637.5,659.2 639.2,659.2 640.8,659.2 642.5,659.2 644.2,659.2 645.9,659.2 647.6,659.2 649.2,659.2 650.9,659.2 652.6,659.2" fill="none" stroke="#ff0000" stroke-width="1.5" stroke-linejoin="round"/>
<polyline points="400.5,652.1 401.3,651.3 402.2,650.5 403.0,649.7 403.9,648.8 404.7,647.9 405.5,647.0 406.4,646.1 407.2,645.2 408.1,644.3 408.9,643.5 409.7,642.7 410.6,641.9 411.4,641.3 412.3,640.7 413.1,640.1 413.9,639.7 414.8,639.4 415.6,639.2 416.5,639.1 417.3,639.1 418.1,639.1 419.0,639.2 419.8,639.4 420.7,639.6 421.5,639.8 422.3,640.1 423.2,640.4 424.0,640.8 424.9,641.2 425.7,641.6 426.6,642.0 427.4,642.5 428.2,642.9 429.1,643.4 429.9,643.9 430.8,644.4 431.6,644.9 432.4,645.3 433.3,645.8 434.1,646.2 435.0,646.6 435.8,647.0 436.6,647.4 437.5,647.8 438.3,648.2 439.2,648.5 440.0,648.9 440.8,649.2 441.7,649.5 442.5,649.9 443.4,650.2 444.2,650.5 445.0,650.8 445.9,651.0 446.7,651.3 447.6,651.6 448.4,651.8 449.2,652.1 450.1,652.3 450.9,652.6 451.8,652.8 452.6,653.0 453.4,653.2 454.3,653.4 455.1,653.6 456.0,653.8 456.8,653.9 457.6,654.1 458.5,654.3 459.3,654.5 460.2,654.6 461.0,654.8 461.8,654.9 462.7,655.1 463.5,655.2 464.4,655.4 465.2,655.5 466.0,655.6 466.9,655.8 467.7,655.9 468.6,656.0 469.4,656.1 470.2,656.2 471.1,656.3 471.9,656.4 472.8,656.5 473.6,656.6 474.4,656.7 475.3,656.8 476.1,656.9 477.0,657.0 477.8,657.1 478.7,657.2 479.5,657.3 480.3,657.3 481.2,657.4 482.0,657.5 482.9,657.5 483.7,657.6 484.5,657.7 485.4,657.7 486.2,657.8 487.1,657.9 487.9,657.9 488.7,658.0 489.6,658.0 490.4,658.1 491.3,658.1 492.1,658.2 492.9,658.2 493.8,658.3 494.6,658.3 495.5,658.4 496.3,658.4 497.1,658.4 498.0,658.5 498.8,658.5 499.7,658.5 500.5,658.6 501.3,658.6 502.2,658.6 503.0,658.7 503.9,658.7 504.7,658.7 505.5,658.7 506.4,658.8 507.2,658.8 508.1,658.8 508.9,658.8 509.7,658.8 510.6,658.9 511.4,658.9 512.3,658.9 513.1,658.9 513.9,658.9 514.8,658.9 515.6,658.9 516.5,659.0 517.3,659.0 518.1,659.0 519.0,659.0 519.8,659.0 520.7,659.0 521.5,659.0 522.3,659.0 523.2,659.0 524.0,659.0 524.9,659.0 525.7,659.1 526.5,659.1 528.2,659.1 529.9,659.1 531.6,659.1 533.3,659.1 535.0,659.1 536.6,659.1 538.3,659.1 540.0,659.1 541.7,659.1 543.4,659.1 545.0,659.2 546.7,659.2 548.4,659.2 550.1,659.2 551.8,659.2 553.4,659.2 555.1,659.2 556.8,659.2 558.5,659.2 560.2,659.2 561.8,659.2 563.5,659.2 565.2,659.2 566.9,659.2 568.6,659.2 570.2,659.2 571.9,659.2 573.6,659.2 575.3,659.2 577.0,659.2 578.7,659.2 580.3,659.2 582.0,659.2 583.7,659.2 585.4,659.2 587.1,659.2 588.7,659.2 590.4,659.2 592.1,659.2 593.8,659.2 595.5,659.2 597.1,659.2 598.8,659.2 600.5,659.2 602.2,659.2 603.9,659.2 605.5,659.2 607.2,659.2 608.9,659.2 610.6,659.2 612.3,659.2 613.9,659.2 615.6,659.2 617.3,659.2 619.0,659.2 620.7,659.2 622.3,659.2 624.0,659.2 625.7,659.2 627.4,659.2 629.1,659.2 630.8,659.2 632.4,659.2 634.1,659.2 635.8,659.2 637.5,659.2 639.2,659.2 640.8,659.2 642.5,659.2 644.2,659.2 645.9,659.2 647.6,659.2 649.2,659.2 650.9,659.2 652.6,659.2" fill="none" stroke="#008080" stroke-width="1.5" stroke-linejoin="round"/>
<path d="M527.9 482H551" stroke="#000000" stroke-width="1.4"/>
<text x="553.9" y="485.4" font-size="11.1" xml:space="preserve">P1 100nM</text>
<path d="M527.9 495.85H551" stroke="#0000ff" stroke-width="1.4"/>
<text x="553.9" y="499.25" font-size="11.1" xml:space="preserve">P1+TAT-NGs</text>
<path d="M527.9 509.7H551" stroke="#ff0000" stroke-width="1.4"/>
<text x="553.9" y="513.1" font-size="11.1" xml:space="preserve">P1+TAT-NGs HIV1</text>
<path d="M527.9 523.55H551" stroke="#008080" stroke-width="1.4"/>
<text x="553.9" y="526.95" font-size="11.1" xml:space="preserve">P1+TAT-NGs+HIV1</text>
<defs>
<filter id="b05" x="-30%" y="-30%" width="160%" height="160%"><feGaussianBlur stdDeviation="0.5"/></filter>
<filter id="b1" x="-30%" y="-30%" width="160%" height="160%"><feGaussianBlur stdDeviation="1"/></filter>
<filter id="b07" x="-30%" y="-30%" width="160%" height="160%"><feGaussianBlur stdDeviation="0.7"/></filter>
<filter id="b15" x="-50%" y="-50%" width="200%" height="200%"><feGaussianBlur stdDeviation="1.5"/></filter>
<filter id="b2" x="-50%" y="-50%" width="200%" height="200%"><feGaussianBlur stdDeviation="2"/></filter>
<filter id="b3" x="-50%" y="-50%" width="200%" height="200%"><feGaussianBlur stdDeviation="3"/></filter>
<linearGradient id="gg" x1="0" y1="0" x2="1" y2="0">
<stop offset="0" stop-color="#d2d2d2"/><stop offset="0.5" stop-color="#d4d4d4"/><stop offset="1" stop-color="#d6d6d6"/></linearGradient>
<linearGradient id="hg" x1="0" y1="0" x2="0" y2="1">
<stop offset="0" stop-color="#a8a8a8"/><stop offset="0.04" stop-color="#b8b8b8"/><stop offset="0.1" stop-color="#c5c5c5"/>
<stop offset="0.25" stop-color="#d2d2d2"/><stop offset="0.5" stop-color="#dedede"/><stop offset="0.75" stop-color="#e5e5e5"/><stop offset="1" stop-color="#e9e9e9"/></linearGradient>
<linearGradient id="hr" x1="0" y1="0" x2="1" y2="0">
<stop offset="0" stop-color="#fff" stop-opacity="0"/><stop offset="1" stop-color="#fff" stop-opacity="0.3"/></linearGradient>
<linearGradient id="sm3" x1="0" y1="0" x2="0" y2="1">
<stop offset="0" stop-color="#000" stop-opacity="0.02"/><stop offset="0.5" stop-color="#000" stop-opacity="0.05"/><stop offset="0.8" stop-color="#000" stop-opacity="0.06"/><stop offset="1" stop-color="#000" stop-opacity="0"/></linearGradient>
<linearGradient id="sm6" x1="0" y1="0" x2="0" y2="1">
<stop offset="0" stop-color="#000" stop-opacity="0.08"/><stop offset="0.4" stop-color="#000" stop-opacity="0.12"/><stop offset="0.7" stop-color="#000" stop-opacity="0.24"/><stop offset="0.85" stop-color="#000" stop-opacity="0.18"/><stop offset="1" stop-color="#000" stop-opacity="0"/></linearGradient>
<linearGradient id="bandtop" x1="0" y1="0" x2="0" y2="1">
<stop offset="0" stop-color="#000" stop-opacity="0"/><stop offset="0.4" stop-color="#000" stop-opacity="0.12"/><stop offset="0.75" stop-color="#000" stop-opacity="0.45"/><stop offset="1" stop-color="#000" stop-opacity="0.95"/></linearGradient>
</defs>
<rect x="59.5" y="751.8" width="250" height="183.8" fill="#000"/>
<rect x="61" y="753.3" width="246" height="180.6" fill="#f4f4f4"/>
<rect x="62" y="754" width="243.5" height="178.6" fill="url(#gg)"/>
<rect x="77.3" y="786.5" width="23.9" height="8" rx="4.0" fill="#e0e0e0" stroke="#f6f6f6" stroke-width="1.6" opacity="0.75" filter="url(#b07)"/>
<rect x="109.6" y="786.5" width="25.29999999999999" height="8" rx="4.0" fill="#e0e0e0" stroke="#f6f6f6" stroke-width="1.6" opacity="0.7" filter="url(#b07)"/>
<rect x="206.8" y="787.0" width="20.9" height="6" rx="3.0" fill="#e0e0e0" stroke="#f6f6f6" stroke-width="1.6" opacity="0.5" filter="url(#b07)"/>
<rect x="241.8" y="787.0" width="17.9" height="6" rx="3.0" fill="#e0e0e0" stroke="#f6f6f6" stroke-width="1.6" opacity="0.45" filter="url(#b07)"/>
<ellipse cx="185" cy="791" rx="4" ry="4.5" fill="none" stroke="#f2f2f2" stroke-width="1.5" opacity="0.7" filter="url(#b07)"/>
<rect x="147" y="798" width="22" height="50" fill="url(#sm3)" filter="url(#b15)"/>
<ellipse cx="158" cy="862" rx="11" ry="10" fill="#e2e2e2" opacity="0.8" filter="url(#b3)"/>
<rect x="144.5" y="785" width="26" height="12.5" rx="5" fill="#dedede" stroke="#8a8a8a" stroke-width="0.8" filter="url(#b05)"/>
<rect x="148" y="787.5" width="19" height="3.5" rx="1.7" fill="#ececec" filter="url(#b05)"/>
<path d="M147 786.2 Q157 784.8 168 786" stroke="#666" stroke-width="0.8" fill="none" filter="url(#b05)"/>
<path d="M150 792.6 H165" stroke="#444" stroke-width="1.1" fill="none" filter="url(#b05)"/>
<path d="M146.5 796.6 Q157.5 798.3 168.5 796.6" stroke="#111" stroke-width="2" fill="none" filter="url(#b05)"/>
<rect x="275" y="795.5" width="20" height="50" fill="url(#sm6)" filter="url(#b15)"/>
<ellipse cx="285" cy="855" rx="9" ry="6" fill="#e0e0e0" opacity="0.8" filter="url(#b3)"/>
<path d="M276 789 Q285 788.5 295.5 789.5 L296.5 791.5 Q295 795 292 795 Q284 794 274.5 794.5 Q273.5 793 274.5 790.5 Z" fill="#e2e2e2" stroke="#111" stroke-width="1.4" filter="url(#b05)"/>
<rect x="77.6" y="875.6" width="27.3" height="12.3" rx="6.75" fill="#000" filter="url(#b1)"/>
<rect x="112.6" y="874.8000000000001" width="24.8" height="9.599999999999955" rx="5.399999999999977" fill="#000" filter="url(#b1)"/>
<rect x="204.1" y="860.6" width="26.3" height="11.8" rx="6.5" fill="#000" filter="url(#b1)"/>
<rect x="239.1" y="861.8000000000001" width="23.3" height="9.099999999999955" rx="5.149999999999977" fill="#000" filter="url(#b1)"/>
<text x="83.5" y="774.3" font-size="17.3" text-anchor="middle">1</text>
<text x="120.6" y="774.3" font-size="17.3" text-anchor="middle">2</text>
<text x="156.3" y="774.3" font-size="17.3" text-anchor="middle">3</text>
<text x="209.4" y="774.3" font-size="17.3" text-anchor="middle">4</text>
<text x="246.3" y="774.3" font-size="17.3" text-anchor="middle">5</text>
<text x="281.8" y="774.3" font-size="17.3" text-anchor="middle">6</text>
<text x="1.2" y="766" font-size="28" text-anchor="start">g</text>
<rect x="399.3" y="752.3" width="250.7" height="182.6" fill="#000"/>
<rect x="400.8" y="753.8" width="247.6" height="179.6" fill="#fafafa"/>
<rect x="400.8" y="758.6" width="247.6" height="174.8" fill="url(#hg)"/>
<rect x="560" y="758.6" width="88.4" height="174.8" fill="url(#hr)"/>
<rect x="641" y="758.6" width="7.4" height="174.8" fill="#f2f2f2" opacity="0.5" filter="url(#b1)"/>
<rect x="415.0" y="799" width="20.69999999999999" height="22" fill="#e6e6e6" opacity="0.55" filter="url(#b1)"/>
<rect x="448.5" y="799" width="20.5" height="22" fill="#e6e6e6" opacity="0.55" filter="url(#b1)"/>
<rect x="482.0" y="799" width="19.5" height="22" fill="#e6e6e6" opacity="0.55" filter="url(#b1)"/>
<rect x="514.5" y="799" width="20.5" height="22" fill="#e6e6e6" opacity="0.55" filter="url(#b1)"/>
<rect x="547.8" y="799" width="20.5" height="22" fill="#e6e6e6" opacity="0.55" filter="url(#b1)"/>
<rect x="415.4" y="808" width="21.600000000000023" height="16" fill="url(#bandtop)" filter="url(#b1)"/>
<rect x="447.9" y="806" width="21.700000000000045" height="18" fill="url(#bandtop)" filter="url(#b1)"/>
<rect x="481.3" y="806" width="20.80000000000001" height="18" fill="url(#bandtop)" filter="url(#b1)"/>
<rect x="513.5" y="806" width="22.100000000000023" height="18" fill="url(#bandtop)" filter="url(#b1)"/>
<rect x="484" y="806" width="12" height="14" fill="#000" opacity="0.15" filter="url(#b2)"/>
<rect x="516" y="803" width="16" height="16" fill="#000" opacity="0.08" filter="url(#b2)"/>
<path d="M415.4 825.5 Q415.4 823.5 418.4 823.5 H434 Q437 823.5 437 825.5 V838.5 Q437 841.5 433 841.5 Q428.2 841.5 426.2 838.3 Q424.2 842 419.5 842 Q415.4 842 415.4 838 Z" fill="#000" filter="url(#b1)"/>
<path d="M447.9 824.5 Q447.9 822.5 450.9 822.5 H466.6 Q469.6 822.5 469.6 824.5 V838.5 Q469.6 841.5 465.5 841.5 Q461.6 841.5 459.6 837 Q457.6 843 451.5 843 Q447.9 843 447.9 839 Z" fill="#000" filter="url(#b1)"/>
<path d="M481.3 825.5 Q481.3 823.5 484.3 823.5 H499.1 Q502.1 823.5 502.1 825.5 V838.5 Q502.1 841.5 497.6 841.5 Q493.3 841.5 491.3 838 Q489.3 842.8 485 842.8 Q481.3 842.8 481.3 838.8 Z" fill="#000" filter="url(#b1)"/>
<path d="M513.5 824.5 Q513.5 822.5 516.5 822.5 H532.6 Q535.6 822.5 535.6 824.5 V839 Q535.6 842 530 842 Q525 842 523 839.5 Q521 844.5 517 844.5 Q513.5 844.5 513.5 840.5 Z" fill="#000" filter="url(#b1)"/>
<rect x="547" y="799" width="21" height="19" fill="#7a7a7a" filter="url(#b1)"/>
<path d="M552 800 Q557.5 798 563 800 L562 815 Q557 820 552 815 Z" fill="#c4c4c4" filter="url(#b15)"/>
<path d="M546.6 799 L551 799 L551.5 812 L546.6 814 Z" fill="#111" filter="url(#b1)"/>
<path d="M563 799 L567.8 799 L568 814 L563 812 Z" fill="#111" filter="url(#b1)"/>
<path d="M546.4 812.4 Q557 820 568.6 812.4 V836.5 Q567.5 838.5 566 837.5 Q565 835 563 834.8 Q556 833.5 552 835 Q550.5 838 549 842 Q547 840 546.4 835 Z" fill="#000" filter="url(#b07)"/>
<path d="M580 799 H600.5 V822 Q599.5 826 598 824 Q596 818 590 817 Q584 818 583 826 Q582 831 580.5 834 Q579 832 579 826 Z" fill="#000" filter="url(#b07)"/>
<rect x="584" y="800" width="10" height="4" fill="#555" opacity="0.6" filter="url(#b1)"/>
<path d="M583 826 Q586 818 592 817.5 Q598 819 599 826 V833 H583 Z" fill="#c2c2c2" opacity="0.7" filter="url(#b15)"/>
<rect x="597" y="823" width="3" height="10" fill="#999" opacity="0.6" filter="url(#b1)"/>
<rect x="615" y="800" width="18" height="30" fill="#dcdcdc" opacity="0.5" filter="url(#b2)"/>
<circle cx="632.5" cy="830.8" r="0.9" fill="#333"/>
<rect x="413.1" y="785.2" width="24.49999999999999" height="13.8" rx="6" fill="#cfcfcf" stroke="#a0a0a0" stroke-width="1.2" filter="url(#b05)"/>
<rect x="414.3" y="786.5" width="22.099999999999987" height="10.5" rx="4.5" fill="none" stroke="#e8e8e8" stroke-width="1.2" filter="url(#b05)"/>
<rect x="417.0" y="789.5" width="16.69999999999999" height="3.2" rx="1.6" fill="#fbfbfb" filter="url(#b05)"/>
<rect x="446.6" y="785.2" width="24.3" height="13.8" rx="6" fill="#cfcfcf" stroke="#a0a0a0" stroke-width="1.2" filter="url(#b05)"/>
<rect x="447.8" y="786.5" width="21.9" height="10.5" rx="4.5" fill="none" stroke="#e8e8e8" stroke-width="1.2" filter="url(#b05)"/>
<rect x="450.5" y="789.5" width="16.5" height="3.2" rx="1.6" fill="#fbfbfb" filter="url(#b05)"/>
<rect x="480.1" y="785.2" width="23.3" height="13.8" rx="6" fill="#cfcfcf" stroke="#a0a0a0" stroke-width="1.2" filter="url(#b05)"/>
<rect x="481.3" y="786.5" width="20.9" height="10.5" rx="4.5" fill="none" stroke="#e8e8e8" stroke-width="1.2" filter="url(#b05)"/>
<rect x="484.0" y="789.5" width="15.5" height="3.2" rx="1.6" fill="#fbfbfb" filter="url(#b05)"/>
<rect x="512.6" y="785.2" width="24.3" height="13.8" rx="6" fill="#cfcfcf" stroke="#a0a0a0" stroke-width="1.2" filter="url(#b05)"/>
<rect x="513.8" y="786.5" width="21.9" height="10.5" rx="4.5" fill="none" stroke="#e8e8e8" stroke-width="1.2" filter="url(#b05)"/>
<rect x="516.5" y="789.5" width="16.5" height="3.2" rx="1.6" fill="#fbfbfb" filter="url(#b05)"/>
<rect x="545.9" y="785.2" width="24.3" height="13.8" rx="6" fill="#cfcfcf" stroke="#a0a0a0" stroke-width="1.2" filter="url(#b05)"/>
<rect x="547.0999999999999" y="786.5" width="21.9" height="10.5" rx="4.5" fill="none" stroke="#e8e8e8" stroke-width="1.2" filter="url(#b05)"/>
<rect x="549.8" y="789.5" width="16.5" height="3.2" rx="1.6" fill="#fbfbfb" filter="url(#b05)"/>
<rect x="578.4" y="785.2" width="22.500000000000046" height="13.8" rx="6" fill="#cfcfcf" stroke="#a0a0a0" stroke-width="1.2" filter="url(#b05)"/>
<rect x="579.5999999999999" y="786.5" width="20.100000000000044" height="10.5" rx="4.5" fill="none" stroke="#e8e8e8" stroke-width="1.2" filter="url(#b05)"/>
<rect x="582.3" y="789.5" width="14.700000000000045" height="3.2" rx="1.6" fill="#fbfbfb" filter="url(#b05)"/>
<rect x="613.4" y="785.2" width="21.500000000000046" height="13.8" rx="6" fill="#cfcfcf" stroke="#a0a0a0" stroke-width="1.2" filter="url(#b05)"/>
<rect x="614.5999999999999" y="786.5" width="19.100000000000044" height="10.5" rx="4.5" fill="none" stroke="#e8e8e8" stroke-width="1.2" filter="url(#b05)"/>
<rect x="617.3" y="789.5" width="13.700000000000045" height="3.2" rx="1.6" fill="#fbfbfb" filter="url(#b05)"/>
<rect x="546.4" y="795.5" width="21.5" height="4.3" rx="1" fill="#111" filter="url(#b07)"/>
<rect x="550" y="791.8" width="13" height="1.4" fill="#333" filter="url(#b05)"/>
<rect x="580" y="792.3" width="20.5" height="8" rx="1" fill="#000" filter="url(#b07)"/>
<rect x="613.5" y="795.3" width="21.5" height="3.6" rx="1" fill="#111" filter="url(#b07)"/>
<rect x="614.5" y="792.2" width="19" height="1" fill="#333" filter="url(#b05)"/>
<text x="423.2" y="776.8" font-size="17.5" text-anchor="middle">7</text>
<text x="455.3" y="776.8" font-size="17.5" text-anchor="middle">8</text>
<text x="488.2" y="776.8" font-size="17.5" text-anchor="middle">9</text>
<text x="521.75" y="776.8" font-size="17.5" text-anchor="middle">10</text>
<text x="553.7" y="776.8" font-size="17.5" text-anchor="middle">11</text>
<text x="586.9" y="776.8" font-size="17.5" text-anchor="middle">12</text>
<text x="619.3" y="776.8" font-size="17.5" text-anchor="middle">13</text>
<path d="M412.2 748.4 L502.1 727.8 V748.4 Z" fill="#000"/>
<path d="M545.5 749 L635 729 V749 Z" fill="#000"/>
<text x="434.2" y="721.9" font-size="16.8" text-anchor="start" textLength="42" lengthAdjust="spacingAndGlyphs" xml:space="preserve">+ NG</text>
<text x="513.3" y="740.5" font-size="16" text-anchor="start" textLength="19.2" lengthAdjust="spacingAndGlyphs">Ct</text>
<text x="539" y="722.3" font-size="17" text-anchor="start" textLength="90" lengthAdjust="spacingAndGlyphs" xml:space="preserve">+ TAT-NGs</text>
<text x="340.3" y="761" font-size="26" text-anchor="start">h</text>
</svg>
</body></html>
